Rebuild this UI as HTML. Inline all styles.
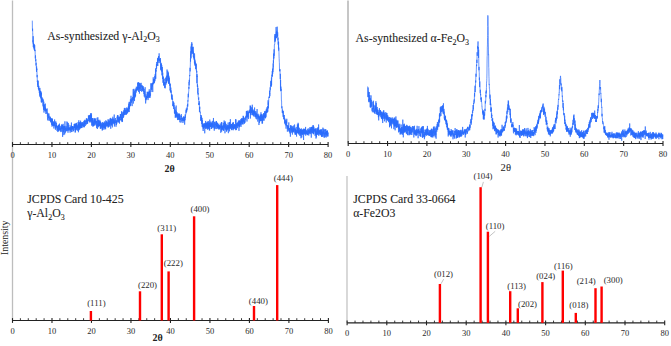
<!DOCTYPE html>
<html><head><meta charset="utf-8"><style>
html,body{margin:0;padding:0;background:#fff;}
svg{display:block;font-family:"Liberation Serif",serif;}
</style></head><body>
<svg width="671" height="346" viewBox="0 0 671 346">
<rect width="671" height="346" fill="#fff"/>
<line x1="12.5" y1="0.5" x2="12.5" y2="320.5" stroke="#bdbdbd" stroke-width="1.3"/>
<line x1="348.0" y1="0.5" x2="348.0" y2="143.5" stroke="#a8a8a8" stroke-width="1.3"/>
<line x1="347.0" y1="176" x2="347.0" y2="322.9" stroke="#c4c4c4" stroke-width="1.3"/>
<path d="M32.30,20.61 L32.40,28.04 L32.50,30.83 L32.60,28.67 L32.70,32.59 L32.80,35.14 L32.90,41.73 L33.00,40.42 L33.10,43.44 L33.20,36.19 L33.30,47.08 L33.40,42.65 L33.50,45.58 L33.60,43.71 L33.70,43.57 L33.80,46.68 L33.90,48.35 L34.00,45.87 L34.10,46.61 L34.20,49.69 L34.30,45.65 L34.40,44.33 L34.50,50.59 L34.60,48.02 L34.70,45.16 L34.80,49.27 L34.90,51.13 L35.00,49.84 L35.10,49.80 L35.20,55.12 L35.30,58.46 L35.40,56.00 L35.50,55.35 L35.60,59.46 L35.70,61.25 L35.80,59.15 L35.90,62.83 L36.00,65.51 L36.10,63.17 L36.20,62.70 L36.30,67.26 L36.40,68.22 L36.50,71.87 L36.60,66.40 L36.70,69.31 L36.80,69.98 L36.90,68.64 L37.00,74.99 L37.10,77.25 L37.20,74.90 L37.30,81.92 L37.40,81.51 L37.50,82.13 L37.60,82.66 L37.70,85.32 L37.80,80.25 L37.90,86.67 L38.00,86.99 L38.10,80.94 L38.20,87.01 L38.30,85.75 L38.40,88.89 L38.50,85.95 L38.60,87.44 L38.70,88.77 L38.80,85.85 L38.90,90.16 L39.00,88.63 L39.10,90.59 L39.20,88.22 L39.30,92.88 L39.40,91.95 L39.50,90.21 L39.60,92.73 L39.70,94.75 L39.80,96.52 L39.90,87.92 L40.00,94.81 L40.10,94.05 L40.20,92.92 L40.30,90.86 L40.40,97.21 L40.50,90.90 L40.60,96.09 L40.70,98.38 L40.80,91.08 L40.90,94.86 L41.00,92.57 L41.10,96.98 L41.20,100.65 L41.30,102.32 L41.40,92.68 L41.50,96.17 L41.60,99.85 L41.70,102.47 L41.80,99.78 L41.90,97.06 L42.00,100.12 L42.10,99.63 L42.20,99.48 L42.30,98.44 L42.40,101.68 L42.50,101.81 L42.60,101.10 L42.70,101.10 L42.80,98.69 L42.90,101.09 L43.00,105.79 L43.10,102.52 L43.20,99.63 L43.30,107.12 L43.40,105.38 L43.50,109.76 L43.60,104.84 L43.70,103.83 L43.80,101.64 L43.90,109.07 L44.00,112.58 L44.10,104.14 L44.20,104.82 L44.30,108.23 L44.40,104.82 L44.50,106.49 L44.60,106.52 L44.70,108.13 L44.80,110.66 L44.90,108.17 L45.00,110.68 L45.10,107.51 L45.20,109.64 L45.30,103.62 L45.40,105.60 L45.50,111.53 L45.60,108.25 L45.70,111.44 L45.80,111.58 L45.90,113.78 L46.00,112.73 L46.10,113.48 L46.20,110.86 L46.30,109.62 L46.40,109.77 L46.50,110.62 L46.60,109.24 L46.70,110.94 L46.80,112.31 L46.90,113.41 L47.00,112.16 L47.11,108.41 L47.21,113.27 L47.31,114.24 L47.41,116.60 L47.51,115.56 L47.61,112.72 L47.71,112.74 L47.81,119.79 L47.91,116.88 L48.01,119.78 L48.11,120.74 L48.21,113.62 L48.31,116.83 L48.41,117.23 L48.51,117.70 L48.61,117.88 L48.71,117.25 L48.81,117.40 L48.91,113.47 L49.01,117.00 L49.11,115.78 L49.21,118.16 L49.31,116.92 L49.41,119.82 L49.51,120.53 L49.61,119.42 L49.71,119.59 L49.81,119.19 L49.91,118.01 L50.01,118.85 L50.11,118.19 L50.21,120.51 L50.31,119.74 L50.41,121.29 L50.51,116.74 L50.61,122.34 L50.71,118.44 L50.81,118.66 L50.91,120.13 L51.01,119.38 L51.11,121.62 L51.21,119.65 L51.31,118.59 L51.41,119.29 L51.51,124.72 L51.61,121.77 L51.71,118.96 L51.81,121.98 L51.91,118.31 L52.01,126.63 L52.11,118.69 L52.21,123.73 L52.31,124.04 L52.41,119.33 L52.51,123.74 L52.61,125.54 L52.71,124.35 L52.81,123.94 L52.91,125.72 L53.01,123.90 L53.11,124.43 L53.21,123.40 L53.31,125.34 L53.41,121.62 L53.51,125.93 L53.61,122.88 L53.71,121.56 L53.81,125.19 L53.91,128.51 L54.01,126.84 L54.11,123.36 L54.21,126.40 L54.31,123.71 L54.41,124.61 L54.51,125.22 L54.61,119.50 L54.71,125.67 L54.81,122.82 L54.91,123.72 L55.01,121.94 L55.11,121.90 L55.21,123.34 L55.31,127.68 L55.41,129.77 L55.51,125.74 L55.61,128.50 L55.71,125.29 L55.81,121.37 L55.91,126.41 L56.01,127.18 L56.11,125.13 L56.21,126.95 L56.31,127.67 L56.41,124.26 L56.51,122.84 L56.61,125.93 L56.71,126.02 L56.81,125.73 L56.91,129.02 L57.01,130.86 L57.11,125.76 L57.21,128.51 L57.31,129.15 L57.41,128.66 L57.51,129.53 L57.61,126.13 L57.71,128.91 L57.81,132.06 L57.91,129.18 L58.01,125.81 L58.11,128.83 L58.21,130.46 L58.31,128.37 L58.41,126.19 L58.51,131.31 L58.61,124.66 L58.71,128.93 L58.81,127.75 L58.91,124.98 L59.01,130.83 L59.11,128.80 L59.21,125.23 L59.31,129.53 L59.41,127.11 L59.51,123.64 L59.61,126.61 L59.71,128.96 L59.81,129.91 L59.91,128.84 L60.01,128.61 L60.11,129.62 L60.21,127.97 L60.31,131.29 L60.41,128.82 L60.51,129.15 L60.61,129.74 L60.71,125.89 L60.81,126.72 L60.91,132.08 L61.01,129.20 L61.11,127.71 L61.21,129.20 L61.31,127.21 L61.41,129.03 L61.51,126.75 L61.61,129.00 L61.71,124.54 L61.81,131.51 L61.91,127.08 L62.01,124.50 L62.11,127.75 L62.21,127.39 L62.31,128.63 L62.41,125.51 L62.51,129.20 L62.61,136.88 L62.71,125.16 L62.81,129.03 L62.91,127.46 L63.01,128.66 L63.11,123.84 L63.21,125.42 L63.31,129.27 L63.41,128.07 L63.51,132.07 L63.61,126.45 L63.71,128.55 L63.81,135.11 L63.91,126.27 L64.01,125.93 L64.11,128.00 L64.21,127.97 L64.31,130.09 L64.41,128.37 L64.51,126.23 L64.61,128.55 L64.71,134.36 L64.81,131.07 L64.91,121.33 L65.01,127.66 L65.11,125.91 L65.21,129.51 L65.31,127.62 L65.41,132.68 L65.51,130.29 L65.61,130.20 L65.71,128.52 L65.81,127.98 L65.91,128.91 L66.01,131.21 L66.11,129.39 L66.21,127.28 L66.31,131.19 L66.41,128.60 L66.51,127.96 L66.61,126.26 L66.71,126.81 L66.81,126.65 L66.91,121.49 L67.01,130.64 L67.11,129.57 L67.21,127.71 L67.31,130.74 L67.41,129.29 L67.51,129.14 L67.61,122.32 L67.71,127.71 L67.81,129.56 L67.91,132.15 L68.01,132.72 L68.11,131.73 L68.21,125.53 L68.31,123.06 L68.41,129.71 L68.51,128.42 L68.61,130.67 L68.71,128.07 L68.81,128.91 L68.91,124.79 L69.01,129.48 L69.11,127.34 L69.21,129.26 L69.31,129.53 L69.41,128.16 L69.51,129.21 L69.61,128.43 L69.71,130.29 L69.81,129.69 L69.91,127.18 L70.01,127.09 L70.11,132.66 L70.21,128.21 L70.31,130.82 L70.41,129.36 L70.51,127.04 L70.61,126.58 L70.71,128.65 L70.81,128.95 L70.91,129.79 L71.01,125.26 L71.11,126.85 L71.21,128.03 L71.31,132.08 L71.41,122.55 L71.51,129.25 L71.61,126.88 L71.71,129.19 L71.81,126.96 L71.91,128.99 L72.01,131.85 L72.11,128.93 L72.21,129.10 L72.31,128.93 L72.41,126.22 L72.51,129.30 L72.61,127.48 L72.71,126.01 L72.81,127.84 L72.91,127.37 L73.01,129.71 L73.11,127.77 L73.21,126.59 L73.31,131.33 L73.41,130.19 L73.51,130.85 L73.61,129.24 L73.71,127.49 L73.81,126.73 L73.91,127.05 L74.01,129.97 L74.11,127.95 L74.21,124.09 L74.31,127.54 L74.41,124.21 L74.51,128.00 L74.61,124.68 L74.71,124.52 L74.81,127.82 L74.91,127.33 L75.01,123.50 L75.11,129.26 L75.21,132.64 L75.31,123.84 L75.41,131.75 L75.51,125.69 L75.61,126.13 L75.71,126.86 L75.81,123.78 L75.91,130.35 L76.01,128.38 L76.11,125.36 L76.21,126.47 L76.31,123.46 L76.41,126.24 L76.51,129.30 L76.61,122.89 L76.72,125.94 L76.82,127.31 L76.92,129.45 L77.02,130.14 L77.12,125.76 L77.22,125.05 L77.32,127.89 L77.42,125.90 L77.52,126.00 L77.62,129.32 L77.72,130.76 L77.82,127.30 L77.92,126.16 L78.02,127.97 L78.12,122.02 L78.22,126.49 L78.32,123.95 L78.42,132.24 L78.52,128.18 L78.62,126.76 L78.72,125.92 L78.82,120.29 L78.92,128.04 L79.02,130.23 L79.12,124.51 L79.22,127.88 L79.32,127.95 L79.42,122.44 L79.52,128.40 L79.62,129.39 L79.72,126.64 L79.82,125.90 L79.92,127.93 L80.02,122.27 L80.12,126.17 L80.22,128.44 L80.32,122.84 L80.42,128.19 L80.52,124.73 L80.62,120.66 L80.72,125.39 L80.82,123.24 L80.92,126.31 L81.02,122.66 L81.12,127.98 L81.22,123.60 L81.32,126.20 L81.42,123.85 L81.52,124.46 L81.62,128.08 L81.72,125.66 L81.82,124.14 L81.92,122.01 L82.02,127.80 L82.12,126.72 L82.22,124.10 L82.32,125.43 L82.42,122.30 L82.52,122.28 L82.62,122.69 L82.72,125.50 L82.82,125.31 L82.92,122.73 L83.02,126.28 L83.12,126.34 L83.22,124.81 L83.32,126.86 L83.42,123.59 L83.52,123.97 L83.62,125.34 L83.72,124.06 L83.82,126.02 L83.92,121.00 L84.02,127.45 L84.12,122.04 L84.22,123.49 L84.32,120.49 L84.42,125.25 L84.52,126.84 L84.62,126.29 L84.72,125.67 L84.82,119.80 L84.92,121.64 L85.02,122.35 L85.12,121.08 L85.22,125.97 L85.32,123.57 L85.42,122.94 L85.52,124.07 L85.62,120.44 L85.72,120.42 L85.82,120.37 L85.92,123.61 L86.02,123.11 L86.12,123.57 L86.22,124.67 L86.32,118.60 L86.42,120.43 L86.52,122.04 L86.62,118.26 L86.72,120.14 L86.82,123.80 L86.92,123.90 L87.02,123.72 L87.12,121.06 L87.22,120.32 L87.32,123.37 L87.42,119.68 L87.52,121.31 L87.62,123.61 L87.72,119.33 L87.82,118.62 L87.92,119.97 L88.02,121.35 L88.12,120.94 L88.22,120.02 L88.32,120.89 L88.42,115.46 L88.52,117.16 L88.62,119.56 L88.72,116.75 L88.82,115.61 L88.92,115.82 L89.02,116.41 L89.12,118.12 L89.22,115.91 L89.32,118.90 L89.42,122.39 L89.52,117.71 L89.62,121.11 L89.72,118.55 L89.82,114.95 L89.92,116.96 L90.02,115.10 L90.12,119.58 L90.22,114.98 L90.32,121.25 L90.42,119.56 L90.52,113.28 L90.62,120.37 L90.72,122.41 L90.82,116.78 L90.92,121.31 L91.02,114.60 L91.12,119.80 L91.22,115.24 L91.32,120.67 L91.42,115.23 L91.52,113.31 L91.62,120.90 L91.72,125.70 L91.82,118.77 L91.92,122.42 L92.02,120.80 L92.12,119.89 L92.22,122.34 L92.32,125.01 L92.42,118.11 L92.52,122.66 L92.62,122.28 L92.72,118.10 L92.82,125.68 L92.92,126.65 L93.02,119.67 L93.12,126.23 L93.22,122.10 L93.32,121.55 L93.42,125.61 L93.52,122.48 L93.62,122.70 L93.72,125.60 L93.82,125.03 L93.92,124.04 L94.02,118.42 L94.12,117.99 L94.22,124.57 L94.32,119.54 L94.42,122.15 L94.52,119.15 L94.62,121.31 L94.72,118.62 L94.82,125.71 L94.92,119.22 L95.02,121.41 L95.12,121.31 L95.22,124.77 L95.32,118.41 L95.42,121.85 L95.52,121.48 L95.62,123.34 L95.72,123.26 L95.82,121.03 L95.92,122.80 L96.02,121.36 L96.12,123.47 L96.22,122.13 L96.32,120.84 L96.42,122.43 L96.52,123.44 L96.62,128.13 L96.72,121.47 L96.82,123.47 L96.92,126.34 L97.02,117.77 L97.12,118.64 L97.22,120.05 L97.32,122.72 L97.42,129.00 L97.52,124.07 L97.62,126.11 L97.72,122.68 L97.82,117.28 L97.92,117.71 L98.02,125.87 L98.12,123.90 L98.22,120.35 L98.32,126.28 L98.42,119.87 L98.52,126.43 L98.62,127.26 L98.72,121.93 L98.82,121.15 L98.92,125.95 L99.02,121.29 L99.12,126.10 L99.22,121.16 L99.32,126.08 L99.42,124.40 L99.52,123.18 L99.62,122.12 L99.72,124.92 L99.82,119.81 L99.92,123.79 L100.02,123.54 L100.12,126.16 L100.22,121.48 L100.32,128.69 L100.42,123.79 L100.52,121.79 L100.62,127.92 L100.72,128.60 L100.82,124.13 L100.92,122.43 L101.02,124.64 L101.12,122.94 L101.22,123.87 L101.32,128.41 L101.42,125.59 L101.52,125.00 L101.62,125.50 L101.72,124.53 L101.82,126.72 L101.92,126.82 L102.02,123.81 L102.12,124.97 L102.22,130.57 L102.32,125.75 L102.42,124.29 L102.52,129.72 L102.62,124.79 L102.72,122.11 L102.82,126.42 L102.92,122.61 L103.02,123.60 L103.12,125.60 L103.22,124.52 L103.32,122.98 L103.42,123.51 L103.52,123.41 L103.62,127.69 L103.72,123.13 L103.82,123.50 L103.92,129.83 L104.02,123.56 L104.12,128.52 L104.22,128.11 L104.32,124.56 L104.42,121.50 L104.52,126.05 L104.62,126.59 L104.72,127.32 L104.82,125.16 L104.92,127.91 L105.02,128.36 L105.12,122.40 L105.22,128.37 L105.32,125.29 L105.42,123.46 L105.52,124.02 L105.62,129.30 L105.72,127.10 L105.82,120.33 L105.92,124.83 L106.02,124.25 L106.12,124.12 L106.22,123.27 L106.33,120.94 L106.43,126.52 L106.53,122.11 L106.63,123.45 L106.73,122.85 L106.83,122.50 L106.93,126.03 L107.03,125.12 L107.13,122.51 L107.23,121.82 L107.33,122.93 L107.43,126.38 L107.53,124.30 L107.63,124.52 L107.73,123.11 L107.83,123.24 L107.93,124.36 L108.03,119.31 L108.13,127.67 L108.23,121.80 L108.33,122.29 L108.43,126.88 L108.53,124.13 L108.63,123.65 L108.73,122.09 L108.83,119.67 L108.93,123.88 L109.03,126.30 L109.13,121.16 L109.23,126.63 L109.33,120.53 L109.43,121.44 L109.53,124.42 L109.63,123.15 L109.73,124.79 L109.83,121.26 L109.93,120.52 L110.03,118.44 L110.13,120.02 L110.23,120.29 L110.33,119.39 L110.43,123.58 L110.53,121.17 L110.63,117.90 L110.73,128.76 L110.83,120.63 L110.93,119.57 L111.03,125.61 L111.13,125.39 L111.23,119.70 L111.33,118.87 L111.43,119.99 L111.53,125.15 L111.63,121.59 L111.73,120.34 L111.83,122.20 L111.93,125.17 L112.03,118.80 L112.13,121.21 L112.23,118.73 L112.33,127.38 L112.43,126.47 L112.53,124.31 L112.63,121.62 L112.73,123.52 L112.83,116.73 L112.93,122.50 L113.03,118.52 L113.13,118.51 L113.23,119.99 L113.33,120.81 L113.43,123.03 L113.53,123.30 L113.63,122.19 L113.73,119.20 L113.83,123.12 L113.93,121.13 L114.03,124.28 L114.13,119.10 L114.23,114.54 L114.33,120.10 L114.43,126.50 L114.53,122.34 L114.63,120.67 L114.73,123.27 L114.83,122.30 L114.93,122.16 L115.03,119.72 L115.13,121.11 L115.23,121.36 L115.33,119.23 L115.43,118.00 L115.53,121.02 L115.63,123.00 L115.73,122.15 L115.83,121.72 L115.93,121.68 L116.03,126.73 L116.13,120.96 L116.23,122.82 L116.33,125.01 L116.43,120.27 L116.53,120.73 L116.63,122.59 L116.73,124.11 L116.83,120.67 L116.93,120.74 L117.03,120.01 L117.13,116.76 L117.23,122.41 L117.33,118.98 L117.43,115.31 L117.53,119.13 L117.63,115.17 L117.73,116.89 L117.83,119.35 L117.93,116.98 L118.03,121.83 L118.13,115.52 L118.23,119.73 L118.33,120.39 L118.43,122.56 L118.53,121.18 L118.63,119.42 L118.73,118.98 L118.83,118.58 L118.93,121.47 L119.03,116.98 L119.13,119.83 L119.23,118.25 L119.33,119.02 L119.43,117.72 L119.53,123.58 L119.63,116.62 L119.73,118.81 L119.83,118.81 L119.93,119.57 L120.03,119.11 L120.13,118.95 L120.23,120.23 L120.33,113.98 L120.43,117.62 L120.53,114.45 L120.63,117.98 L120.73,114.37 L120.83,114.82 L120.93,116.95 L121.03,120.46 L121.13,118.33 L121.23,117.54 L121.33,120.18 L121.43,114.26 L121.53,111.31 L121.63,115.35 L121.73,115.61 L121.83,119.27 L121.93,121.42 L122.03,112.70 L122.13,122.07 L122.23,119.70 L122.33,117.79 L122.43,116.52 L122.53,121.55 L122.63,115.60 L122.73,114.12 L122.83,115.55 L122.93,111.69 L123.03,116.18 L123.13,114.63 L123.23,115.63 L123.33,115.60 L123.43,111.96 L123.53,117.79 L123.63,111.87 L123.73,116.52 L123.83,110.22 L123.93,115.03 L124.03,111.95 L124.13,114.01 L124.23,112.18 L124.33,108.24 L124.43,110.82 L124.53,113.68 L124.63,114.97 L124.73,109.63 L124.83,107.88 L124.93,110.92 L125.03,112.47 L125.13,111.27 L125.23,110.70 L125.33,114.73 L125.43,114.89 L125.53,114.19 L125.63,109.84 L125.73,112.26 L125.83,111.44 L125.93,108.20 L126.03,113.89 L126.13,111.75 L126.23,110.17 L126.33,114.84 L126.43,113.06 L126.53,113.16 L126.63,113.89 L126.73,112.54 L126.83,107.40 L126.93,109.48 L127.03,112.86 L127.13,108.25 L127.23,110.16 L127.33,110.93 L127.43,113.44 L127.53,112.95 L127.63,111.80 L127.73,108.92 L127.83,111.58 L127.93,110.47 L128.03,108.56 L128.13,112.22 L128.23,109.83 L128.33,106.45 L128.43,111.39 L128.53,107.32 L128.63,109.28 L128.73,103.68 L128.83,107.32 L128.93,104.75 L129.03,104.48 L129.13,101.89 L129.23,112.04 L129.33,105.98 L129.43,106.77 L129.53,108.80 L129.63,105.45 L129.73,106.88 L129.83,101.88 L129.93,105.66 L130.03,103.89 L130.13,106.01 L130.23,104.96 L130.33,100.71 L130.43,99.28 L130.53,101.21 L130.63,105.50 L130.73,104.47 L130.83,104.19 L130.93,97.71 L131.03,95.75 L131.13,100.86 L131.23,101.38 L131.33,100.46 L131.43,102.71 L131.53,101.12 L131.63,98.27 L131.73,98.83 L131.83,101.26 L131.93,100.85 L132.03,100.24 L132.13,106.11 L132.23,99.30 L132.33,100.07 L132.43,96.94 L132.53,98.37 L132.63,100.45 L132.73,100.33 L132.83,98.22 L132.93,99.44 L133.03,98.32 L133.13,93.03 L133.23,89.15 L133.33,103.55 L133.43,99.45 L133.53,96.90 L133.63,92.26 L133.73,93.25 L133.83,99.94 L133.93,88.82 L134.03,95.07 L134.13,97.97 L134.23,95.83 L134.33,97.21 L134.43,94.64 L134.53,101.07 L134.63,91.80 L134.73,90.69 L134.83,94.78 L134.93,97.60 L135.03,93.44 L135.13,96.13 L135.23,91.71 L135.33,89.74 L135.43,96.37 L135.53,96.59 L135.63,96.26 L135.73,90.79 L135.83,88.64 L135.94,88.37 L136.04,90.65 L136.14,92.57 L136.24,92.14 L136.34,86.72 L136.44,90.84 L136.54,90.13 L136.64,90.09 L136.74,89.55 L136.84,88.84 L136.94,90.74 L137.04,89.29 L137.14,89.42 L137.24,86.83 L137.34,89.61 L137.44,88.09 L137.54,82.60 L137.64,89.45 L137.74,87.31 L137.84,90.38 L137.94,87.32 L138.04,87.36 L138.14,88.06 L138.24,87.32 L138.34,86.02 L138.44,82.25 L138.54,91.92 L138.64,82.56 L138.74,85.76 L138.84,88.31 L138.94,87.44 L139.04,87.82 L139.14,88.23 L139.24,89.43 L139.34,86.69 L139.44,93.61 L139.54,82.88 L139.64,86.10 L139.74,84.37 L139.84,83.74 L139.94,85.86 L140.04,89.00 L140.14,83.26 L140.24,83.39 L140.34,87.41 L140.44,87.05 L140.54,91.01 L140.64,88.63 L140.74,86.60 L140.84,85.23 L140.94,86.83 L141.04,85.91 L141.14,82.83 L141.24,86.67 L141.34,86.31 L141.44,86.29 L141.54,85.89 L141.64,91.74 L141.74,89.19 L141.84,89.97 L141.94,85.95 L142.04,84.97 L142.14,87.09 L142.24,88.64 L142.34,87.19 L142.44,87.74 L142.54,90.96 L142.64,89.32 L142.74,86.01 L142.84,87.64 L142.94,87.15 L143.04,89.60 L143.14,86.29 L143.24,89.23 L143.34,91.86 L143.44,90.39 L143.54,88.17 L143.64,89.27 L143.74,91.54 L143.84,92.80 L143.94,94.04 L144.04,91.73 L144.14,88.91 L144.24,96.50 L144.34,93.80 L144.44,94.39 L144.54,94.42 L144.64,91.17 L144.74,93.37 L144.84,95.19 L144.94,97.54 L145.04,95.27 L145.14,87.19 L145.24,95.08 L145.34,96.94 L145.44,99.72 L145.54,98.48 L145.64,103.45 L145.74,100.95 L145.84,101.05 L145.94,100.28 L146.04,94.34 L146.14,100.08 L146.24,99.33 L146.34,96.28 L146.44,99.10 L146.54,98.56 L146.64,96.14 L146.74,96.94 L146.84,96.47 L146.94,97.67 L147.04,95.85 L147.14,98.29 L147.24,91.73 L147.34,95.92 L147.44,92.14 L147.54,95.19 L147.64,97.72 L147.74,96.32 L147.84,95.87 L147.94,96.24 L148.04,100.09 L148.14,92.95 L148.24,98.10 L148.34,91.68 L148.44,94.33 L148.54,95.89 L148.64,93.12 L148.74,95.80 L148.84,97.08 L148.94,91.91 L149.04,94.70 L149.14,93.66 L149.24,89.27 L149.34,93.66 L149.44,91.79 L149.54,97.20 L149.64,91.08 L149.74,97.66 L149.84,91.49 L149.94,97.80 L150.04,93.83 L150.14,93.36 L150.24,94.04 L150.34,94.05 L150.44,95.14 L150.54,95.77 L150.64,89.98 L150.74,87.31 L150.84,83.26 L150.94,89.11 L151.04,91.93 L151.14,90.66 L151.24,89.71 L151.34,88.21 L151.44,87.18 L151.54,87.89 L151.64,89.44 L151.74,83.41 L151.84,89.86 L151.94,83.72 L152.04,86.96 L152.14,85.39 L152.24,85.82 L152.34,83.71 L152.44,83.13 L152.54,85.34 L152.64,82.74 L152.74,92.05 L152.84,83.98 L152.94,83.04 L153.04,83.04 L153.14,81.34 L153.24,77.29 L153.34,82.99 L153.44,84.24 L153.54,79.02 L153.64,82.85 L153.74,79.25 L153.84,82.17 L153.94,82.96 L154.04,83.02 L154.14,82.60 L154.24,79.20 L154.34,83.26 L154.44,79.33 L154.54,81.24 L154.64,81.93 L154.74,78.87 L154.84,75.89 L154.94,80.83 L155.04,75.57 L155.14,75.38 L155.24,73.99 L155.34,78.58 L155.44,74.99 L155.54,68.38 L155.64,75.89 L155.74,78.83 L155.84,77.28 L155.94,69.85 L156.04,70.86 L156.14,71.27 L156.24,71.56 L156.34,68.34 L156.44,64.33 L156.54,68.91 L156.64,68.01 L156.74,61.97 L156.84,64.21 L156.94,65.53 L157.04,64.25 L157.14,65.26 L157.24,65.54 L157.34,64.31 L157.44,61.93 L157.54,57.87 L157.64,63.03 L157.74,64.80 L157.84,65.96 L157.94,59.66 L158.04,59.15 L158.14,62.94 L158.24,62.43 L158.34,59.03 L158.44,60.28 L158.54,56.18 L158.64,60.26 L158.74,56.35 L158.84,58.50 L158.94,58.74 L159.04,57.91 L159.14,53.34 L159.24,57.23 L159.34,60.76 L159.44,59.80 L159.54,59.02 L159.64,61.57 L159.74,62.49 L159.84,63.13 L159.94,58.53 L160.04,61.19 L160.14,60.57 L160.24,59.40 L160.34,58.03 L160.44,62.44 L160.54,60.62 L160.64,69.69 L160.74,63.64 L160.84,63.68 L160.94,63.59 L161.04,70.48 L161.14,62.84 L161.24,65.47 L161.34,64.14 L161.44,66.37 L161.54,67.23 L161.64,71.31 L161.74,65.07 L161.84,69.87 L161.94,75.34 L162.04,70.24 L162.14,72.04 L162.24,70.92 L162.34,66.97 L162.44,74.84 L162.54,79.26 L162.64,75.57 L162.74,72.64 L162.84,79.34 L162.94,79.69 L163.04,82.85 L163.14,82.95 L163.24,80.07 L163.34,82.25 L163.44,76.59 L163.54,84.90 L163.64,82.72 L163.74,85.52 L163.84,85.80 L163.94,82.48 L164.04,83.20 L164.14,81.58 L164.24,78.70 L164.34,84.30 L164.44,85.43 L164.54,82.42 L164.64,87.64 L164.74,86.33 L164.84,87.64 L164.94,84.69 L165.04,81.99 L165.14,88.38 L165.24,87.46 L165.34,85.05 L165.44,83.74 L165.55,83.66 L165.65,83.57 L165.75,82.09 L165.85,77.53 L165.95,84.68 L166.05,77.99 L166.15,80.70 L166.25,80.30 L166.35,81.39 L166.45,75.78 L166.55,83.12 L166.65,81.27 L166.75,81.26 L166.85,82.30 L166.95,76.28 L167.05,69.50 L167.15,78.73 L167.25,81.11 L167.35,80.37 L167.45,75.34 L167.55,76.24 L167.65,76.95 L167.75,70.81 L167.85,73.64 L167.95,73.39 L168.05,79.60 L168.15,73.86 L168.25,80.49 L168.35,76.64 L168.45,72.43 L168.55,83.67 L168.65,75.33 L168.75,80.18 L168.85,83.64 L168.95,77.94 L169.05,76.50 L169.15,83.20 L169.25,81.00 L169.35,77.92 L169.45,78.79 L169.55,81.28 L169.65,85.70 L169.75,83.03 L169.85,86.32 L169.95,89.75 L170.05,89.44 L170.15,90.62 L170.25,90.79 L170.35,83.89 L170.45,92.22 L170.55,90.56 L170.65,90.08 L170.75,88.25 L170.85,87.65 L170.95,89.66 L171.05,93.13 L171.15,90.48 L171.25,91.83 L171.35,92.76 L171.45,96.55 L171.55,94.41 L171.65,95.20 L171.75,99.48 L171.85,95.54 L171.95,98.36 L172.05,94.56 L172.15,98.89 L172.25,99.04 L172.35,99.89 L172.45,98.92 L172.55,98.16 L172.65,100.76 L172.75,101.02 L172.85,105.60 L172.95,105.97 L173.05,101.09 L173.15,106.16 L173.25,103.70 L173.35,106.48 L173.45,104.45 L173.55,102.29 L173.65,109.03 L173.75,107.96 L173.85,104.05 L173.95,102.74 L174.05,106.57 L174.15,105.30 L174.25,107.76 L174.35,110.63 L174.45,113.15 L174.55,108.90 L174.65,113.66 L174.75,113.50 L174.85,109.83 L174.95,107.10 L175.05,113.72 L175.15,113.26 L175.25,117.80 L175.35,115.62 L175.45,114.14 L175.55,116.57 L175.65,109.85 L175.75,113.12 L175.85,112.10 L175.95,117.30 L176.05,114.50 L176.15,105.57 L176.25,116.82 L176.35,111.27 L176.45,115.64 L176.55,112.65 L176.65,114.61 L176.75,115.74 L176.85,114.79 L176.95,112.07 L177.05,118.10 L177.15,115.75 L177.25,114.87 L177.35,116.82 L177.45,113.88 L177.55,120.06 L177.65,116.07 L177.75,116.57 L177.85,116.68 L177.95,113.70 L178.05,113.17 L178.15,116.73 L178.25,117.17 L178.35,119.74 L178.45,117.62 L178.55,113.89 L178.65,118.00 L178.75,118.85 L178.85,119.39 L178.95,117.82 L179.05,114.07 L179.15,120.08 L179.25,115.48 L179.35,118.82 L179.45,113.60 L179.55,119.49 L179.65,115.75 L179.75,120.47 L179.85,122.26 L179.95,120.89 L180.05,115.18 L180.15,115.79 L180.25,116.02 L180.35,119.86 L180.45,119.12 L180.55,118.71 L180.65,119.13 L180.75,119.85 L180.85,120.07 L180.95,122.69 L181.05,118.43 L181.15,119.12 L181.25,114.08 L181.35,115.44 L181.45,117.05 L181.55,115.88 L181.65,119.40 L181.75,121.47 L181.85,117.88 L181.95,117.80 L182.05,117.74 L182.15,119.29 L182.25,117.59 L182.35,119.95 L182.45,119.61 L182.55,119.68 L182.65,120.68 L182.75,118.84 L182.85,119.08 L182.95,123.03 L183.05,118.54 L183.15,120.59 L183.25,118.72 L183.35,117.42 L183.45,117.39 L183.55,116.46 L183.65,118.48 L183.75,116.92 L183.85,117.34 L183.95,121.36 L184.05,117.98 L184.15,121.10 L184.25,118.90 L184.35,120.34 L184.45,116.67 L184.55,118.51 L184.65,124.62 L184.75,120.12 L184.85,120.52 L184.95,118.58 L185.05,119.91 L185.15,114.51 L185.25,114.87 L185.35,117.65 L185.45,118.22 L185.55,114.76 L185.65,114.91 L185.75,114.07 L185.85,114.11 L185.95,111.17 L186.05,110.19 L186.15,113.16 L186.25,108.61 L186.35,110.11 L186.45,110.50 L186.55,109.11 L186.65,111.96 L186.75,109.83 L186.85,110.35 L186.95,107.59 L187.05,107.55 L187.15,109.73 L187.25,108.35 L187.35,105.23 L187.45,106.35 L187.55,104.90 L187.65,103.82 L187.75,106.53 L187.85,100.37 L187.95,101.49 L188.05,100.37 L188.15,97.40 L188.25,93.71 L188.35,97.33 L188.45,94.95 L188.55,93.14 L188.65,91.81 L188.75,90.55 L188.85,86.85 L188.95,88.77 L189.05,81.87 L189.15,85.41 L189.25,79.83 L189.35,81.05 L189.45,82.10 L189.55,77.54 L189.65,75.05 L189.75,75.93 L189.85,71.86 L189.95,69.59 L190.05,67.79 L190.15,71.39 L190.25,67.19 L190.35,64.87 L190.45,58.26 L190.55,61.67 L190.65,54.33 L190.75,57.67 L190.85,51.20 L190.95,58.41 L191.05,46.53 L191.15,54.48 L191.25,52.61 L191.35,44.35 L191.45,48.27 L191.55,52.65 L191.65,51.12 L191.75,42.16 L191.85,45.40 L191.95,43.70 L192.05,44.40 L192.15,45.79 L192.25,53.43 L192.35,48.60 L192.45,47.78 L192.55,47.70 L192.65,50.92 L192.75,51.25 L192.85,46.72 L192.95,54.04 L193.05,46.93 L193.15,49.92 L193.25,52.67 L193.35,56.98 L193.45,51.52 L193.55,53.98 L193.65,57.56 L193.75,56.16 L193.85,58.23 L193.95,58.57 L194.05,56.90 L194.15,58.58 L194.25,60.00 L194.35,57.86 L194.45,63.17 L194.55,53.39 L194.65,57.08 L194.75,64.51 L194.85,62.17 L194.95,59.69 L195.06,63.19 L195.16,65.76 L195.26,61.57 L195.36,65.91 L195.46,63.89 L195.56,64.45 L195.66,65.11 L195.76,69.01 L195.86,63.20 L195.96,65.87 L196.06,69.33 L196.16,64.53 L196.26,64.05 L196.36,70.66 L196.46,69.59 L196.56,70.24 L196.66,72.55 L196.76,70.94 L196.86,83.25 L196.96,73.94 L197.06,76.96 L197.16,75.76 L197.26,80.03 L197.36,86.82 L197.46,84.22 L197.56,87.22 L197.66,85.71 L197.76,93.28 L197.86,90.25 L197.96,87.89 L198.06,94.66 L198.16,93.04 L198.26,97.02 L198.36,97.18 L198.46,98.91 L198.56,99.75 L198.66,98.05 L198.76,97.51 L198.86,104.92 L198.96,103.05 L199.06,105.13 L199.16,104.21 L199.26,101.23 L199.36,104.15 L199.46,111.95 L199.56,107.19 L199.66,108.81 L199.76,106.67 L199.86,109.65 L199.96,110.64 L200.06,111.62 L200.16,112.59 L200.26,111.79 L200.36,112.54 L200.46,114.54 L200.56,115.98 L200.66,115.42 L200.76,120.70 L200.86,117.48 L200.96,117.97 L201.06,116.44 L201.16,120.99 L201.26,116.34 L201.36,115.28 L201.46,117.26 L201.56,121.58 L201.66,117.65 L201.76,124.03 L201.86,121.20 L201.96,117.95 L202.06,121.50 L202.16,126.81 L202.26,120.76 L202.36,120.07 L202.46,124.90 L202.56,127.23 L202.66,126.92 L202.76,124.06 L202.86,125.71 L202.96,126.44 L203.06,128.66 L203.16,131.01 L203.26,125.57 L203.36,128.96 L203.46,125.00 L203.56,127.25 L203.66,123.57 L203.76,123.98 L203.86,126.83 L203.96,123.66 L204.06,127.97 L204.16,124.50 L204.26,126.01 L204.36,125.63 L204.46,125.02 L204.56,126.14 L204.66,128.43 L204.76,133.32 L204.86,122.96 L204.96,126.55 L205.06,125.40 L205.16,123.62 L205.26,126.52 L205.36,123.71 L205.46,125.64 L205.56,128.82 L205.66,120.95 L205.76,126.43 L205.86,126.91 L205.96,123.52 L206.06,127.09 L206.16,126.68 L206.26,124.98 L206.36,128.75 L206.46,122.67 L206.56,127.38 L206.66,125.26 L206.76,123.28 L206.86,125.40 L206.96,124.98 L207.06,127.80 L207.16,122.22 L207.26,125.36 L207.36,124.73 L207.46,129.62 L207.56,123.13 L207.66,128.38 L207.76,121.58 L207.86,126.65 L207.96,125.49 L208.06,126.72 L208.16,124.08 L208.26,121.04 L208.36,122.00 L208.46,128.87 L208.56,126.19 L208.66,123.56 L208.76,127.80 L208.86,123.80 L208.96,123.79 L209.06,122.61 L209.16,128.36 L209.26,130.24 L209.36,123.14 L209.46,126.14 L209.56,127.78 L209.66,130.50 L209.76,119.57 L209.86,125.68 L209.96,126.87 L210.06,121.71 L210.16,126.25 L210.26,125.71 L210.36,126.96 L210.46,123.78 L210.56,126.17 L210.66,123.67 L210.76,126.58 L210.86,125.47 L210.96,124.15 L211.06,121.61 L211.16,129.00 L211.26,127.67 L211.36,127.09 L211.46,123.33 L211.56,124.07 L211.66,128.93 L211.76,126.67 L211.86,122.78 L211.96,124.93 L212.06,125.14 L212.16,124.29 L212.26,122.47 L212.36,127.77 L212.46,126.13 L212.56,124.21 L212.66,120.85 L212.76,123.22 L212.86,124.61 L212.96,126.70 L213.06,123.71 L213.16,127.32 L213.26,125.01 L213.36,122.90 L213.46,117.97 L213.56,121.92 L213.66,121.19 L213.76,124.46 L213.86,125.67 L213.96,128.26 L214.06,124.90 L214.16,122.15 L214.26,130.68 L214.36,125.78 L214.46,124.42 L214.56,124.45 L214.66,121.85 L214.76,126.69 L214.86,126.08 L214.96,129.05 L215.06,127.91 L215.16,127.38 L215.26,128.35 L215.36,124.65 L215.46,124.30 L215.56,125.28 L215.66,122.42 L215.76,125.12 L215.86,124.71 L215.96,127.15 L216.06,125.53 L216.16,120.99 L216.26,125.70 L216.36,129.08 L216.46,121.26 L216.56,123.89 L216.66,125.80 L216.76,122.59 L216.86,124.50 L216.96,125.99 L217.06,122.69 L217.16,126.60 L217.26,126.89 L217.36,122.86 L217.46,126.00 L217.56,128.56 L217.66,125.54 L217.76,127.03 L217.86,127.55 L217.96,125.44 L218.06,128.40 L218.16,126.97 L218.26,123.66 L218.36,127.33 L218.46,128.17 L218.56,128.04 L218.66,124.56 L218.76,127.24 L218.86,129.46 L218.96,126.72 L219.06,129.03 L219.16,129.33 L219.26,126.12 L219.36,127.81 L219.46,125.53 L219.56,128.83 L219.66,126.04 L219.76,124.95 L219.86,126.23 L219.96,126.13 L220.06,127.24 L220.16,127.46 L220.26,123.54 L220.36,124.79 L220.46,127.24 L220.56,127.55 L220.66,126.61 L220.76,132.77 L220.86,129.13 L220.96,126.27 L221.06,128.22 L221.16,129.71 L221.26,127.38 L221.36,122.31 L221.46,126.77 L221.56,126.67 L221.66,131.70 L221.76,122.15 L221.86,130.32 L221.96,126.24 L222.06,128.87 L222.16,125.94 L222.26,127.08 L222.36,129.40 L222.46,126.89 L222.56,129.24 L222.66,126.52 L222.76,125.75 L222.86,126.22 L222.96,125.55 L223.06,126.49 L223.16,130.07 L223.26,123.99 L223.36,122.82 L223.46,126.79 L223.56,130.91 L223.66,129.38 L223.76,130.06 L223.86,129.90 L223.96,125.15 L224.06,127.21 L224.16,120.53 L224.26,125.48 L224.36,128.43 L224.46,123.23 L224.56,122.03 L224.67,123.88 L224.77,127.55 L224.87,129.85 L224.97,133.28 L225.07,130.50 L225.17,123.39 L225.27,121.43 L225.37,127.37 L225.47,129.54 L225.57,123.08 L225.67,125.70 L225.77,125.86 L225.87,127.01 L225.97,126.48 L226.07,128.14 L226.17,129.43 L226.27,127.04 L226.37,128.66 L226.47,131.64 L226.57,124.36 L226.67,124.28 L226.77,128.02 L226.87,131.24 L226.97,127.16 L227.07,129.38 L227.17,125.99 L227.27,128.92 L227.37,125.19 L227.47,128.31 L227.57,127.62 L227.67,127.60 L227.77,129.95 L227.87,129.19 L227.97,125.16 L228.07,128.73 L228.17,122.48 L228.27,128.95 L228.37,133.18 L228.47,127.81 L228.57,127.75 L228.67,126.66 L228.77,128.50 L228.87,125.39 L228.97,128.09 L229.07,125.80 L229.17,125.41 L229.27,126.72 L229.37,126.26 L229.47,122.20 L229.57,131.39 L229.67,126.70 L229.77,122.25 L229.87,128.93 L229.97,126.24 L230.07,126.79 L230.17,128.01 L230.27,124.14 L230.37,119.19 L230.47,126.06 L230.57,126.89 L230.67,128.72 L230.77,124.48 L230.87,125.66 L230.97,127.27 L231.07,125.54 L231.17,125.70 L231.27,126.92 L231.37,123.90 L231.47,130.13 L231.57,124.08 L231.67,126.39 L231.77,125.51 L231.87,124.59 L231.97,127.59 L232.07,128.74 L232.17,129.81 L232.27,127.70 L232.37,125.21 L232.47,128.38 L232.57,122.81 L232.67,126.41 L232.77,127.55 L232.87,127.65 L232.97,123.50 L233.07,122.67 L233.17,130.29 L233.27,125.04 L233.37,122.29 L233.47,123.27 L233.57,126.29 L233.67,129.11 L233.77,126.25 L233.87,129.15 L233.97,126.79 L234.07,127.38 L234.17,128.61 L234.27,125.33 L234.37,126.95 L234.47,125.29 L234.57,124.69 L234.67,127.80 L234.77,124.23 L234.87,126.41 L234.97,124.30 L235.07,125.99 L235.17,124.93 L235.27,128.84 L235.37,126.39 L235.47,126.38 L235.57,130.16 L235.67,119.19 L235.77,123.47 L235.87,119.54 L235.97,126.13 L236.07,127.16 L236.17,127.59 L236.27,126.61 L236.37,123.79 L236.47,130.06 L236.57,126.50 L236.67,125.06 L236.77,122.92 L236.87,126.58 L236.97,124.30 L237.07,124.34 L237.17,125.86 L237.27,125.82 L237.37,123.24 L237.47,128.20 L237.57,122.67 L237.67,122.33 L237.77,125.71 L237.87,125.21 L237.97,125.00 L238.07,123.77 L238.17,124.81 L238.27,123.28 L238.37,120.58 L238.47,126.30 L238.57,121.99 L238.67,123.83 L238.77,126.09 L238.87,124.32 L238.97,130.85 L239.07,120.73 L239.17,122.25 L239.27,124.22 L239.37,127.23 L239.47,123.27 L239.57,120.33 L239.67,126.52 L239.77,121.44 L239.87,123.14 L239.97,125.70 L240.07,121.84 L240.17,122.28 L240.27,124.47 L240.37,122.70 L240.47,123.80 L240.57,120.71 L240.67,122.63 L240.77,120.17 L240.87,118.94 L240.97,126.93 L241.07,123.66 L241.17,124.70 L241.27,120.01 L241.37,122.21 L241.47,121.69 L241.57,118.63 L241.67,123.34 L241.77,120.15 L241.87,121.33 L241.97,118.03 L242.07,124.08 L242.17,123.41 L242.27,122.43 L242.37,119.15 L242.47,119.97 L242.57,124.19 L242.67,120.43 L242.77,121.67 L242.87,121.27 L242.97,118.09 L243.07,124.48 L243.17,115.79 L243.27,121.12 L243.37,120.26 L243.47,116.41 L243.57,121.11 L243.67,121.48 L243.77,120.24 L243.87,117.99 L243.97,121.04 L244.07,122.59 L244.17,120.30 L244.27,123.91 L244.37,121.69 L244.47,121.38 L244.57,122.82 L244.67,117.68 L244.77,117.93 L244.87,120.40 L244.97,120.32 L245.07,122.60 L245.17,121.53 L245.27,118.96 L245.37,118.89 L245.47,117.49 L245.57,117.09 L245.67,116.70 L245.77,119.87 L245.87,116.29 L245.97,116.40 L246.07,117.50 L246.17,115.66 L246.27,116.18 L246.37,111.16 L246.47,117.33 L246.57,115.47 L246.67,116.53 L246.77,116.79 L246.87,111.09 L246.97,121.52 L247.07,115.77 L247.17,115.66 L247.27,110.61 L247.37,116.46 L247.47,115.78 L247.57,113.69 L247.67,115.05 L247.77,117.48 L247.87,113.28 L247.97,111.69 L248.07,117.13 L248.17,114.29 L248.27,113.01 L248.37,119.06 L248.47,113.51 L248.57,112.50 L248.67,113.43 L248.77,111.57 L248.87,112.94 L248.97,112.59 L249.07,110.38 L249.17,111.20 L249.27,112.45 L249.37,112.45 L249.47,112.77 L249.57,113.09 L249.67,111.56 L249.77,112.05 L249.87,109.60 L249.97,109.73 L250.07,113.00 L250.17,105.44 L250.27,111.43 L250.37,118.54 L250.47,105.93 L250.57,114.46 L250.67,106.29 L250.77,111.69 L250.87,114.93 L250.97,114.63 L251.07,108.64 L251.17,107.71 L251.27,107.41 L251.37,112.91 L251.47,110.17 L251.57,111.23 L251.67,111.92 L251.77,112.36 L251.87,112.74 L251.97,111.76 L252.07,107.47 L252.17,115.24 L252.27,104.72 L252.37,114.81 L252.47,110.25 L252.57,111.33 L252.67,110.58 L252.77,111.03 L252.87,111.97 L252.97,111.38 L253.07,109.42 L253.17,114.41 L253.27,110.92 L253.37,115.85 L253.47,112.19 L253.57,110.90 L253.67,113.87 L253.77,115.10 L253.87,110.65 L253.97,112.36 L254.07,116.75 L254.17,110.77 L254.28,111.24 L254.38,113.89 L254.48,110.53 L254.58,107.50 L254.68,109.59 L254.78,114.80 L254.88,115.61 L254.98,115.55 L255.08,115.14 L255.18,111.19 L255.28,116.06 L255.38,117.35 L255.48,112.83 L255.58,117.02 L255.68,113.85 L255.78,115.34 L255.88,115.89 L255.98,111.37 L256.08,118.83 L256.18,113.14 L256.28,115.12 L256.38,114.24 L256.48,116.72 L256.58,116.75 L256.68,115.83 L256.78,119.39 L256.88,116.68 L256.98,115.08 L257.08,109.02 L257.18,115.58 L257.28,115.66 L257.38,114.31 L257.48,114.44 L257.58,118.15 L257.68,119.37 L257.78,121.58 L257.88,119.81 L257.98,115.32 L258.08,117.76 L258.18,113.77 L258.28,118.98 L258.38,118.08 L258.48,115.71 L258.58,116.98 L258.68,116.65 L258.78,115.72 L258.88,120.59 L258.98,125.04 L259.08,119.41 L259.18,120.02 L259.28,117.82 L259.38,116.58 L259.48,122.91 L259.58,116.59 L259.68,118.51 L259.78,117.25 L259.88,119.04 L259.98,117.48 L260.08,119.09 L260.18,114.52 L260.28,117.43 L260.38,121.09 L260.48,115.17 L260.58,116.10 L260.68,121.17 L260.78,118.80 L260.88,120.47 L260.98,112.31 L261.08,118.23 L261.18,114.74 L261.28,114.48 L261.38,118.96 L261.48,120.90 L261.58,114.29 L261.68,115.28 L261.78,116.60 L261.88,117.75 L261.98,114.80 L262.08,123.62 L262.18,119.40 L262.28,116.96 L262.38,116.48 L262.48,123.44 L262.58,123.14 L262.68,116.28 L262.78,118.27 L262.88,120.45 L262.98,114.28 L263.08,115.68 L263.18,120.41 L263.28,115.23 L263.38,115.80 L263.48,113.43 L263.58,114.80 L263.68,118.31 L263.78,114.46 L263.88,113.16 L263.98,114.76 L264.08,120.66 L264.18,116.59 L264.28,114.66 L264.38,116.35 L264.48,116.99 L264.58,116.09 L264.68,111.18 L264.78,116.36 L264.88,114.98 L264.98,117.54 L265.08,111.95 L265.18,117.88 L265.28,113.92 L265.38,110.79 L265.48,118.32 L265.58,113.60 L265.68,115.74 L265.78,114.30 L265.88,117.37 L265.98,117.31 L266.08,117.02 L266.18,115.64 L266.28,109.39 L266.38,108.84 L266.48,113.21 L266.58,109.92 L266.68,113.14 L266.78,112.00 L266.88,107.61 L266.98,108.19 L267.08,107.56 L267.18,107.81 L267.28,109.17 L267.38,111.06 L267.48,112.37 L267.58,106.09 L267.68,106.75 L267.78,111.81 L267.88,109.74 L267.98,107.67 L268.08,100.30 L268.18,102.95 L268.28,105.17 L268.38,102.42 L268.48,108.33 L268.58,102.59 L268.68,102.29 L268.78,97.87 L268.88,97.21 L268.98,97.40 L269.08,96.70 L269.18,96.93 L269.28,97.74 L269.38,96.58 L269.48,97.82 L269.58,90.74 L269.68,94.11 L269.78,93.39 L269.88,96.21 L269.98,90.56 L270.08,91.23 L270.18,87.34 L270.28,89.89 L270.38,89.03 L270.48,85.44 L270.58,85.15 L270.68,85.46 L270.78,86.33 L270.88,80.79 L270.98,85.58 L271.08,81.43 L271.18,86.79 L271.28,84.79 L271.38,78.82 L271.48,77.40 L271.58,85.19 L271.68,79.30 L271.78,78.33 L271.88,74.76 L271.98,74.78 L272.08,76.79 L272.18,75.67 L272.28,71.02 L272.38,76.28 L272.48,73.06 L272.58,68.91 L272.68,73.85 L272.78,69.94 L272.88,72.08 L272.98,67.69 L273.08,69.72 L273.18,63.46 L273.28,67.55 L273.38,60.24 L273.48,63.24 L273.58,53.52 L273.68,58.86 L273.78,59.32 L273.88,56.77 L273.98,57.43 L274.08,49.33 L274.18,55.83 L274.28,54.59 L274.38,44.82 L274.48,44.66 L274.58,43.97 L274.68,44.26 L274.78,43.53 L274.88,34.07 L274.98,42.05 L275.08,38.61 L275.18,35.54 L275.28,40.86 L275.38,36.15 L275.48,39.99 L275.58,37.40 L275.68,34.04 L275.78,37.94 L275.88,36.08 L275.98,31.27 L276.08,27.09 L276.18,30.43 L276.28,34.24 L276.38,31.76 L276.48,38.17 L276.58,33.67 L276.68,33.65 L276.78,34.48 L276.88,30.66 L276.98,33.21 L277.08,31.72 L277.18,26.67 L277.28,28.97 L277.38,37.36 L277.48,34.31 L277.58,35.90 L277.68,32.33 L277.78,35.67 L277.88,40.49 L277.98,38.98 L278.08,37.69 L278.18,44.56 L278.28,41.36 L278.38,42.36 L278.48,48.75 L278.58,41.95 L278.68,50.69 L278.78,47.60 L278.88,50.46 L278.98,52.65 L279.08,56.91 L279.18,58.70 L279.28,61.13 L279.38,62.71 L279.48,68.01 L279.58,70.67 L279.68,69.71 L279.78,71.39 L279.88,69.68 L279.98,69.14 L280.08,75.40 L280.18,75.34 L280.28,79.14 L280.38,73.84 L280.48,88.58 L280.58,79.99 L280.68,85.86 L280.78,90.74 L280.88,86.61 L280.98,91.15 L281.08,88.87 L281.18,91.96 L281.28,92.13 L281.38,99.03 L281.48,101.03 L281.58,100.93 L281.68,106.54 L281.78,108.35 L281.88,106.24 L281.98,107.19 L282.08,107.71 L282.18,107.76 L282.28,112.75 L282.38,110.52 L282.48,109.57 L282.58,110.34 L282.68,112.81 L282.78,110.91 L282.88,113.22 L282.98,112.83 L283.08,116.84 L283.18,116.85 L283.28,110.86 L283.38,114.52 L283.48,117.21 L283.58,114.80 L283.68,118.45 L283.78,117.77 L283.89,118.91 L283.99,117.77 L284.09,118.96 L284.19,119.75 L284.29,115.03 L284.39,116.65 L284.49,116.63 L284.59,123.57 L284.69,120.38 L284.79,120.79 L284.89,120.54 L284.99,119.07 L285.09,118.74 L285.19,122.92 L285.29,120.14 L285.39,125.19 L285.49,122.02 L285.59,122.00 L285.69,121.47 L285.79,122.07 L285.89,122.57 L285.99,126.46 L286.09,128.69 L286.19,120.38 L286.29,124.07 L286.39,125.41 L286.49,121.71 L286.59,122.61 L286.69,123.28 L286.79,118.77 L286.89,126.45 L286.99,125.00 L287.09,125.12 L287.19,125.78 L287.29,126.43 L287.39,131.67 L287.49,126.74 L287.59,128.56 L287.69,125.52 L287.79,127.87 L287.89,126.49 L287.99,127.13 L288.09,125.45 L288.19,125.79 L288.29,128.98 L288.39,129.81 L288.49,129.24 L288.59,126.64 L288.69,129.15 L288.79,122.41 L288.89,130.91 L288.99,128.67 L289.09,129.54 L289.19,131.82 L289.29,128.13 L289.39,131.58 L289.49,128.34 L289.59,130.84 L289.69,128.67 L289.79,130.51 L289.89,133.40 L289.99,128.46 L290.09,128.58 L290.19,129.26 L290.29,130.78 L290.39,136.67 L290.49,128.66 L290.59,125.14 L290.69,128.49 L290.79,126.25 L290.89,128.72 L290.99,130.11 L291.09,127.76 L291.19,128.43 L291.29,125.57 L291.39,130.50 L291.49,128.27 L291.59,132.68 L291.69,132.60 L291.79,127.98 L291.89,129.18 L291.99,130.21 L292.09,131.90 L292.19,126.05 L292.29,129.91 L292.39,134.57 L292.49,129.87 L292.59,130.62 L292.69,130.09 L292.79,127.22 L292.89,132.38 L292.99,130.74 L293.09,130.49 L293.19,131.84 L293.29,131.99 L293.39,125.54 L293.49,131.26 L293.59,128.70 L293.69,130.49 L293.79,128.39 L293.89,128.02 L293.99,132.40 L294.09,130.10 L294.19,129.46 L294.29,129.47 L294.39,130.38 L294.49,130.16 L294.59,124.53 L294.69,128.14 L294.79,129.69 L294.89,132.07 L294.99,133.57 L295.09,128.07 L295.19,135.00 L295.29,130.59 L295.39,131.56 L295.49,129.12 L295.59,128.97 L295.69,133.90 L295.79,129.94 L295.89,130.24 L295.99,133.29 L296.09,134.67 L296.19,126.94 L296.29,130.11 L296.39,130.56 L296.49,134.97 L296.59,136.56 L296.69,130.53 L296.79,131.57 L296.89,132.77 L296.99,133.48 L297.09,129.96 L297.19,132.81 L297.29,129.09 L297.39,124.35 L297.49,127.49 L297.59,131.35 L297.69,132.73 L297.79,125.44 L297.89,126.55 L297.99,130.84 L298.09,122.81 L298.19,132.30 L298.29,133.46 L298.39,123.83 L298.49,132.87 L298.59,130.58 L298.69,134.47 L298.79,131.76 L298.89,130.53 L298.99,131.42 L299.09,133.41 L299.19,131.63 L299.29,131.29 L299.39,127.74 L299.49,132.39 L299.59,131.32 L299.69,135.70 L299.79,131.26 L299.89,131.10 L299.99,129.82 L300.09,133.08 L300.19,130.86 L300.29,129.67 L300.39,135.23 L300.49,135.68 L300.59,130.31 L300.69,128.95 L300.79,134.14 L300.89,129.43 L300.99,138.25 L301.09,131.13 L301.19,133.79 L301.29,128.36 L301.39,131.41 L301.49,134.14 L301.59,132.58 L301.69,130.23 L301.79,137.45 L301.89,133.33 L301.99,131.01 L302.09,130.12 L302.19,130.93 L302.29,134.85 L302.39,129.75 L302.49,131.69 L302.59,129.65 L302.69,134.66 L302.79,131.26 L302.89,133.74 L302.99,133.04 L303.09,130.28 L303.19,133.38 L303.29,133.97 L303.39,128.94 L303.49,133.42 L303.59,140.00 L303.69,131.02 L303.79,133.29 L303.89,128.54 L303.99,132.88 L304.09,130.36 L304.19,133.65 L304.29,131.68 L304.39,128.97 L304.49,134.48 L304.59,131.31 L304.69,129.39 L304.79,132.01 L304.89,129.53 L304.99,132.83 L305.09,131.71 L305.19,130.95 L305.29,133.44 L305.39,128.72 L305.49,134.15 L305.59,126.93 L305.69,135.65 L305.79,132.19 L305.89,131.09 L305.99,129.93 L306.09,133.03 L306.19,131.30 L306.29,131.24 L306.39,134.15 L306.49,130.58 L306.59,131.05 L306.69,132.64 L306.79,134.19 L306.89,131.21 L306.99,131.94 L307.09,131.65 L307.19,133.33 L307.29,135.12 L307.39,129.23 L307.49,131.15 L307.59,131.35 L307.69,132.88 L307.79,135.07 L307.89,131.37 L307.99,131.91 L308.09,134.13 L308.19,128.34 L308.29,129.48 L308.39,130.24 L308.49,131.30 L308.59,131.86 L308.69,130.02 L308.79,135.52 L308.89,129.53 L308.99,130.74 L309.09,133.85 L309.19,133.07 L309.29,131.14 L309.39,132.08 L309.49,133.13 L309.59,131.10 L309.69,132.69 L309.79,128.86 L309.89,131.25 L309.99,127.06 L310.09,128.89 L310.19,128.29 L310.29,134.12 L310.39,129.96 L310.49,131.83 L310.59,128.86 L310.69,130.63 L310.79,130.45 L310.89,129.05 L310.99,133.24 L311.09,127.11 L311.19,132.69 L311.29,137.65 L311.39,129.18 L311.49,131.26 L311.59,127.40 L311.69,131.14 L311.79,126.98 L311.89,132.74 L311.99,130.02 L312.09,126.72 L312.19,128.07 L312.29,127.36 L312.39,130.54 L312.49,133.32 L312.59,130.27 L312.69,128.37 L312.79,129.21 L312.89,131.54 L312.99,125.31 L313.09,132.69 L313.19,132.25 L313.29,125.27 L313.39,134.16 L313.50,127.28 L313.60,130.75 L313.70,134.17 L313.80,127.29 L313.90,126.77 L314.00,128.56 L314.10,128.66 L314.20,130.98 L314.30,130.04 L314.40,130.12 L314.50,130.16 L314.60,130.90 L314.70,129.27 L314.80,132.17 L314.90,131.38 L315.00,128.90 L315.10,135.88 L315.20,128.31 L315.30,133.24 L315.40,129.63 L315.50,132.35 L315.60,132.77 L315.70,133.62 L315.80,135.01 L315.90,129.48 L316.00,138.57 L316.10,132.57 L316.20,129.61 L316.30,128.29 L316.40,137.39 L316.50,135.69 L316.60,131.64 L316.70,133.56 L316.80,134.94 L316.90,131.98 L317.00,130.71 L317.10,131.68 L317.20,133.84 L317.30,131.85 L317.40,128.80 L317.50,133.68 L317.60,127.61 L317.70,130.02 L317.80,134.91 L317.90,132.47 L318.00,132.48 L318.10,132.18 L318.20,134.46 L318.30,131.82 L318.40,127.17 L318.50,132.57 L318.60,124.46 L318.70,126.97 L318.80,135.90 L318.90,134.58 L319.00,130.90 L319.10,131.87 L319.20,132.27 L319.30,134.54 L319.40,130.19 L319.50,129.94 L319.60,130.58 L319.70,132.47 L319.80,132.79 L319.90,131.19 L320.00,134.04 L320.10,129.68 L320.20,132.01 L320.30,130.51 L320.40,129.76 L320.50,135.25 L320.60,131.47 L320.70,129.80 L320.80,132.38 L320.90,129.84 L321.00,133.77 L321.10,134.41 L321.20,134.86 L321.30,129.76 L321.40,132.01 L321.50,136.91 L321.60,131.87 L321.70,135.52 L321.80,136.17 L321.90,129.05 L322.00,135.43 L322.10,134.32 L322.20,134.64 L322.30,136.65 L322.40,133.65 L322.50,132.72 L322.60,134.05 L322.70,131.71 L322.80,133.79 L322.90,127.65 L323.00,136.85 L323.10,131.31 L323.20,133.95 L323.30,133.41 L323.40,132.91 L323.50,132.94 L323.60,132.84 L323.70,128.68 L323.80,131.37 L323.90,135.65 L324.00,130.23 L324.10,130.16 L324.20,137.95 L324.30,135.74 L324.40,136.62 L324.50,132.77 L324.60,133.48 L324.70,134.70 L324.80,134.22 L324.90,132.64 L325.00,129.28 L325.10,131.11 L325.20,129.25 L325.30,136.85 L325.40,132.04 L325.50,132.62 L325.60,133.80 L325.70,133.19 L325.80,134.48 L325.90,131.70 L326.00,129.53 L326.10,137.59 L326.20,131.60 L326.30,132.22 L326.40,131.48 L326.50,132.12 L326.60,133.55 L326.70,135.37 L326.80,131.01 L326.90,134.33 L327.00,132.02 L327.10,136.64 L327.20,130.74 L327.30,134.03 L327.40,135.57 L327.50,130.55 L327.60,134.18 L327.70,134.31 L327.80,132.05 L327.90,133.51 L328.00,136.49 L328.10,134.67 L328.20,133.06" fill="none" stroke="#2a6cfc" stroke-width="0.7" stroke-linejoin="round"/>
<path d="M367.60,86.51 L367.70,87.47 L367.80,87.49 L367.90,90.00 L368.00,96.97 L368.10,87.54 L368.20,96.02 L368.30,97.37 L368.40,92.53 L368.50,91.76 L368.60,95.94 L368.70,98.74 L368.80,102.16 L368.90,98.57 L369.00,101.23 L369.10,95.17 L369.20,94.26 L369.30,92.02 L369.40,94.25 L369.50,97.19 L369.60,99.38 L369.70,95.06 L369.80,102.21 L369.90,99.75 L370.00,98.48 L370.10,98.31 L370.20,107.29 L370.30,101.68 L370.40,98.55 L370.50,98.59 L370.60,107.57 L370.70,100.21 L370.80,105.96 L370.90,106.91 L371.00,95.39 L371.10,107.12 L371.20,102.45 L371.30,99.93 L371.40,101.84 L371.50,105.51 L371.60,105.14 L371.70,105.51 L371.80,102.14 L371.90,108.61 L372.00,109.52 L372.10,110.77 L372.20,108.39 L372.30,111.39 L372.40,112.22 L372.50,108.11 L372.60,108.88 L372.70,108.16 L372.80,108.28 L372.90,109.47 L373.00,101.70 L373.10,106.08 L373.20,108.68 L373.30,100.71 L373.40,102.86 L373.50,112.34 L373.60,104.21 L373.70,106.14 L373.80,108.83 L373.90,106.27 L374.00,105.16 L374.10,106.32 L374.20,106.67 L374.30,106.29 L374.40,108.73 L374.50,113.25 L374.60,109.44 L374.70,113.46 L374.80,110.80 L374.90,111.18 L375.00,110.49 L375.10,107.83 L375.20,110.14 L375.30,109.86 L375.40,105.55 L375.50,111.41 L375.60,110.96 L375.70,110.39 L375.80,107.60 L375.90,101.26 L376.00,114.05 L376.10,109.41 L376.20,103.00 L376.30,111.88 L376.40,107.82 L376.50,112.23 L376.60,109.91 L376.70,113.86 L376.80,111.19 L376.90,111.45 L377.00,111.17 L377.10,114.63 L377.20,106.94 L377.30,114.70 L377.40,113.31 L377.50,109.59 L377.60,111.42 L377.70,110.16 L377.80,111.85 L377.90,114.69 L378.00,109.81 L378.10,114.32 L378.20,115.05 L378.30,114.23 L378.40,117.21 L378.50,112.28 L378.60,114.76 L378.70,120.39 L378.80,112.95 L378.90,112.56 L379.00,113.12 L379.10,115.03 L379.20,111.44 L379.30,112.71 L379.40,108.18 L379.50,110.47 L379.60,110.68 L379.70,110.37 L379.80,112.70 L379.90,116.32 L380.00,113.12 L380.10,110.26 L380.20,115.12 L380.30,114.93 L380.40,110.12 L380.50,114.93 L380.60,111.20 L380.70,112.59 L380.80,112.30 L380.90,117.13 L381.00,112.10 L381.10,113.68 L381.20,115.27 L381.30,117.92 L381.40,118.42 L381.50,111.67 L381.60,118.49 L381.70,115.80 L381.80,118.59 L381.90,118.19 L382.00,113.34 L382.10,115.13 L382.20,114.14 L382.30,116.23 L382.41,120.22 L382.51,115.32 L382.61,113.14 L382.71,123.04 L382.81,112.19 L382.91,115.29 L383.01,115.28 L383.11,111.44 L383.21,117.83 L383.31,118.70 L383.41,115.21 L383.51,115.67 L383.61,115.02 L383.71,110.12 L383.81,116.35 L383.91,111.79 L384.01,112.71 L384.11,116.92 L384.21,118.59 L384.31,113.09 L384.41,119.32 L384.51,121.29 L384.61,116.40 L384.71,115.67 L384.81,116.56 L384.91,114.73 L385.01,113.37 L385.11,118.09 L385.21,118.41 L385.31,114.73 L385.41,115.12 L385.51,114.53 L385.61,114.38 L385.71,113.64 L385.81,112.07 L385.91,119.59 L386.01,115.81 L386.11,117.19 L386.21,122.59 L386.31,115.66 L386.41,119.02 L386.51,113.18 L386.61,115.49 L386.71,119.64 L386.81,116.78 L386.91,113.27 L387.01,113.04 L387.11,118.87 L387.21,115.07 L387.31,120.10 L387.41,118.94 L387.51,117.20 L387.61,118.07 L387.71,120.66 L387.81,118.54 L387.91,115.63 L388.01,119.64 L388.11,117.63 L388.21,118.09 L388.31,120.62 L388.41,119.97 L388.51,122.16 L388.61,118.58 L388.71,117.85 L388.81,118.29 L388.91,120.56 L389.01,117.06 L389.11,118.50 L389.21,117.12 L389.31,117.41 L389.41,119.32 L389.51,127.26 L389.61,118.88 L389.71,120.91 L389.81,120.50 L389.91,119.78 L390.01,120.48 L390.11,126.34 L390.21,119.69 L390.31,125.35 L390.41,122.52 L390.51,117.99 L390.61,118.69 L390.71,119.30 L390.81,117.46 L390.91,124.23 L391.01,122.06 L391.11,122.45 L391.21,117.81 L391.31,122.35 L391.41,119.37 L391.51,128.33 L391.61,120.80 L391.71,121.96 L391.81,122.40 L391.91,119.77 L392.01,120.07 L392.11,120.10 L392.21,123.88 L392.31,119.18 L392.41,120.93 L392.51,122.44 L392.61,120.26 L392.71,117.43 L392.81,118.00 L392.91,120.37 L393.01,118.75 L393.11,124.59 L393.21,121.78 L393.31,121.70 L393.41,118.79 L393.51,123.43 L393.61,120.83 L393.71,119.08 L393.81,120.06 L393.91,129.16 L394.01,120.24 L394.11,119.50 L394.21,125.59 L394.31,124.39 L394.41,121.37 L394.51,126.39 L394.61,117.91 L394.71,120.91 L394.81,117.47 L394.91,126.51 L395.01,122.60 L395.11,130.35 L395.21,124.10 L395.31,124.28 L395.41,119.60 L395.51,119.56 L395.61,121.75 L395.71,126.03 L395.81,120.33 L395.91,116.45 L396.01,126.21 L396.11,126.51 L396.21,121.17 L396.31,125.34 L396.41,127.48 L396.51,127.75 L396.61,119.70 L396.71,124.69 L396.81,122.31 L396.91,127.61 L397.01,125.13 L397.11,121.37 L397.21,125.41 L397.31,126.99 L397.41,120.71 L397.51,121.42 L397.61,123.55 L397.71,124.79 L397.81,124.12 L397.91,120.47 L398.01,121.39 L398.11,126.08 L398.21,127.55 L398.31,123.80 L398.41,127.08 L398.51,132.34 L398.61,126.23 L398.71,125.68 L398.81,125.03 L398.91,128.69 L399.01,128.11 L399.11,128.32 L399.21,126.59 L399.31,129.08 L399.41,129.23 L399.51,127.70 L399.61,131.73 L399.71,123.76 L399.81,130.69 L399.91,128.32 L400.01,131.34 L400.11,134.52 L400.21,128.99 L400.31,128.29 L400.41,128.80 L400.51,133.01 L400.61,133.50 L400.71,129.40 L400.81,130.84 L400.91,134.29 L401.01,130.54 L401.11,124.47 L401.21,126.52 L401.31,127.52 L401.41,130.14 L401.51,127.30 L401.61,133.12 L401.71,127.58 L401.81,133.67 L401.91,127.05 L402.01,133.02 L402.11,129.59 L402.21,133.27 L402.31,134.88 L402.41,134.26 L402.51,132.17 L402.61,126.85 L402.71,126.67 L402.81,119.64 L402.91,133.48 L403.01,132.87 L403.11,132.16 L403.21,125.76 L403.31,137.33 L403.41,127.15 L403.51,131.73 L403.61,124.35 L403.71,127.35 L403.81,132.81 L403.91,132.23 L404.01,125.97 L404.11,128.93 L404.21,132.50 L404.31,123.72 L404.41,131.45 L404.51,124.58 L404.61,131.04 L404.71,128.39 L404.81,132.07 L404.91,127.61 L405.01,128.08 L405.11,128.08 L405.21,126.29 L405.31,128.29 L405.41,126.11 L405.51,127.45 L405.61,131.13 L405.71,128.17 L405.81,132.30 L405.91,131.23 L406.01,131.60 L406.11,125.81 L406.21,130.40 L406.31,133.44 L406.41,131.88 L406.51,132.84 L406.61,133.71 L406.71,124.81 L406.81,130.94 L406.91,130.90 L407.01,128.72 L407.11,125.46 L407.21,129.75 L407.31,128.87 L407.41,135.07 L407.51,133.21 L407.61,128.18 L407.71,126.31 L407.81,126.93 L407.91,129.27 L408.01,127.32 L408.11,135.23 L408.21,125.99 L408.31,129.22 L408.41,129.93 L408.51,130.73 L408.61,126.84 L408.71,128.90 L408.81,130.10 L408.91,130.55 L409.01,127.92 L409.11,128.74 L409.21,130.29 L409.31,135.22 L409.41,126.19 L409.51,131.73 L409.61,134.31 L409.71,125.71 L409.81,133.97 L409.91,133.88 L410.01,130.02 L410.11,132.66 L410.21,134.21 L410.31,129.54 L410.41,130.69 L410.51,126.98 L410.61,128.13 L410.71,130.37 L410.81,129.95 L410.91,134.89 L411.01,129.66 L411.11,126.86 L411.21,132.93 L411.31,133.06 L411.41,131.60 L411.51,130.10 L411.61,128.27 L411.71,128.72 L411.81,134.97 L411.92,132.88 L412.02,130.98 L412.12,131.92 L412.22,129.77 L412.32,128.15 L412.42,129.48 L412.52,130.70 L412.62,126.20 L412.72,126.79 L412.82,126.00 L412.92,129.66 L413.02,132.70 L413.12,127.17 L413.22,127.75 L413.32,126.45 L413.42,129.70 L413.52,127.66 L413.62,128.20 L413.72,127.95 L413.82,137.48 L413.92,130.87 L414.02,129.31 L414.12,129.92 L414.22,133.68 L414.32,134.01 L414.42,132.05 L414.52,125.79 L414.62,134.15 L414.72,134.42 L414.82,133.63 L414.92,132.82 L415.02,131.74 L415.12,134.92 L415.22,130.71 L415.32,134.52 L415.42,130.27 L415.52,130.56 L415.62,130.41 L415.72,130.11 L415.82,130.32 L415.92,133.83 L416.02,136.10 L416.12,129.78 L416.22,128.86 L416.32,135.28 L416.42,130.88 L416.52,132.60 L416.62,132.27 L416.72,134.40 L416.82,129.42 L416.92,135.09 L417.02,134.15 L417.12,125.82 L417.22,131.51 L417.32,130.92 L417.42,133.05 L417.52,131.84 L417.62,129.94 L417.72,131.09 L417.82,133.03 L417.92,132.20 L418.02,131.67 L418.12,138.26 L418.22,133.61 L418.32,129.08 L418.42,132.51 L418.52,133.10 L418.62,129.49 L418.72,132.56 L418.82,129.95 L418.92,126.16 L419.02,133.25 L419.12,134.05 L419.22,134.04 L419.32,131.96 L419.42,130.76 L419.52,133.06 L419.62,133.60 L419.72,134.97 L419.82,136.14 L419.92,134.71 L420.02,130.94 L420.12,132.39 L420.22,128.72 L420.32,134.53 L420.42,134.18 L420.52,135.86 L420.62,133.96 L420.72,136.93 L420.82,130.78 L420.92,133.59 L421.02,132.03 L421.12,132.12 L421.22,127.93 L421.32,130.72 L421.42,127.35 L421.52,131.86 L421.62,130.87 L421.72,133.13 L421.82,127.84 L421.92,131.37 L422.02,132.10 L422.12,126.56 L422.22,137.20 L422.32,134.09 L422.42,130.74 L422.52,137.89 L422.62,136.46 L422.72,126.18 L422.82,132.04 L422.92,131.18 L423.02,132.99 L423.12,130.33 L423.22,132.20 L423.32,133.12 L423.42,126.23 L423.52,133.27 L423.62,136.73 L423.72,133.31 L423.82,136.08 L423.92,137.27 L424.02,133.83 L424.12,134.13 L424.22,134.19 L424.32,132.00 L424.42,139.23 L424.52,134.37 L424.62,134.70 L424.72,135.78 L424.82,137.20 L424.92,129.65 L425.02,130.56 L425.12,133.67 L425.22,134.68 L425.32,130.07 L425.42,129.64 L425.52,135.33 L425.62,135.20 L425.72,132.51 L425.82,132.49 L425.92,131.57 L426.02,130.12 L426.12,130.90 L426.22,133.66 L426.32,132.71 L426.42,135.75 L426.52,129.68 L426.62,128.67 L426.72,134.66 L426.82,130.66 L426.92,132.31 L427.02,133.21 L427.12,129.80 L427.22,129.06 L427.32,133.81 L427.42,125.93 L427.52,134.72 L427.62,128.40 L427.72,135.19 L427.82,133.88 L427.92,133.68 L428.02,134.35 L428.12,133.43 L428.22,129.47 L428.32,135.23 L428.42,133.41 L428.52,134.29 L428.62,132.74 L428.72,132.41 L428.82,135.50 L428.92,135.54 L429.02,133.70 L429.12,129.96 L429.22,130.66 L429.32,130.48 L429.42,136.03 L429.52,134.45 L429.62,133.34 L429.72,132.80 L429.82,131.28 L429.92,135.32 L430.02,130.51 L430.12,130.99 L430.22,135.37 L430.32,134.80 L430.42,132.98 L430.52,129.86 L430.62,129.85 L430.72,135.29 L430.82,134.06 L430.92,136.91 L431.02,131.84 L431.12,132.83 L431.22,130.59 L431.32,137.25 L431.42,128.64 L431.52,134.54 L431.62,137.08 L431.72,130.45 L431.82,129.18 L431.92,130.25 L432.02,129.16 L432.12,133.69 L432.22,132.53 L432.32,130.41 L432.42,131.99 L432.52,136.56 L432.62,132.02 L432.72,131.62 L432.82,137.58 L432.92,130.30 L433.02,131.36 L433.12,136.28 L433.22,132.58 L433.32,127.58 L433.42,130.20 L433.52,126.63 L433.62,130.69 L433.72,133.12 L433.82,128.08 L433.92,136.15 L434.02,135.42 L434.12,134.22 L434.22,130.29 L434.32,132.20 L434.42,133.51 L434.52,134.51 L434.62,135.30 L434.72,126.53 L434.82,130.19 L434.92,129.02 L435.02,131.05 L435.12,132.27 L435.22,137.39 L435.32,131.16 L435.42,133.53 L435.52,131.35 L435.62,130.81 L435.72,135.16 L435.82,127.76 L435.92,132.11 L436.02,135.48 L436.12,138.72 L436.22,128.61 L436.32,127.39 L436.42,126.40 L436.52,128.37 L436.62,129.24 L436.72,129.11 L436.82,131.74 L436.92,127.94 L437.02,129.37 L437.12,124.23 L437.22,126.56 L437.32,127.66 L437.42,121.94 L437.52,128.01 L437.62,129.76 L437.72,127.57 L437.82,127.76 L437.92,127.03 L438.02,123.79 L438.12,126.35 L438.22,124.27 L438.32,125.37 L438.42,124.77 L438.52,124.34 L438.62,120.15 L438.72,122.78 L438.82,126.81 L438.92,124.21 L439.02,120.69 L439.12,118.87 L439.22,122.69 L439.32,119.61 L439.42,114.54 L439.52,117.37 L439.62,122.25 L439.72,113.07 L439.82,117.00 L439.92,114.34 L440.02,115.53 L440.12,114.03 L440.22,112.22 L440.32,107.24 L440.42,112.71 L440.52,112.74 L440.62,111.71 L440.72,108.68 L440.82,109.24 L440.92,116.02 L441.02,106.80 L441.12,108.68 L441.22,106.07 L441.32,108.55 L441.42,109.58 L441.53,111.91 L441.63,109.12 L441.73,108.35 L441.83,109.09 L441.93,109.43 L442.03,107.71 L442.13,107.75 L442.23,111.02 L442.33,105.94 L442.43,107.59 L442.53,105.40 L442.63,106.45 L442.73,111.70 L442.83,105.96 L442.93,109.14 L443.03,113.45 L443.13,109.80 L443.23,108.51 L443.33,107.40 L443.43,103.32 L443.53,107.94 L443.63,108.52 L443.73,113.88 L443.83,113.70 L443.93,109.06 L444.03,114.48 L444.13,111.70 L444.23,118.47 L444.33,118.03 L444.43,116.43 L444.53,114.18 L444.63,120.16 L444.73,118.36 L444.83,119.54 L444.93,118.45 L445.03,116.91 L445.13,120.03 L445.23,116.40 L445.33,120.96 L445.43,119.87 L445.53,115.71 L445.63,121.53 L445.73,120.62 L445.83,120.23 L445.93,121.43 L446.03,124.03 L446.13,119.67 L446.23,120.25 L446.33,125.14 L446.43,124.20 L446.53,119.88 L446.63,124.87 L446.73,120.79 L446.83,127.11 L446.93,126.50 L447.03,127.41 L447.13,122.86 L447.23,125.10 L447.33,129.54 L447.43,124.42 L447.53,129.51 L447.63,128.13 L447.73,129.43 L447.83,127.47 L447.93,131.36 L448.03,131.20 L448.13,132.41 L448.23,136.48 L448.33,130.01 L448.43,130.81 L448.53,128.17 L448.63,135.09 L448.73,130.07 L448.83,132.91 L448.93,128.36 L449.03,130.62 L449.13,132.80 L449.23,132.60 L449.33,130.86 L449.43,133.83 L449.53,132.03 L449.63,134.42 L449.73,131.38 L449.83,133.63 L449.93,131.01 L450.03,135.35 L450.13,132.36 L450.23,132.59 L450.33,131.16 L450.43,135.10 L450.53,133.12 L450.63,132.28 L450.73,136.12 L450.83,131.15 L450.93,135.48 L451.03,136.81 L451.13,129.08 L451.23,135.52 L451.33,134.75 L451.43,133.99 L451.53,134.45 L451.63,130.72 L451.73,134.97 L451.83,134.40 L451.93,130.33 L452.03,133.53 L452.13,131.08 L452.23,134.23 L452.33,131.86 L452.43,134.27 L452.53,130.57 L452.63,132.71 L452.73,133.03 L452.83,133.51 L452.93,136.77 L453.03,139.29 L453.13,130.38 L453.23,136.08 L453.33,133.41 L453.43,133.39 L453.53,133.36 L453.63,133.74 L453.73,133.91 L453.83,136.14 L453.93,137.22 L454.03,135.04 L454.13,134.31 L454.23,135.59 L454.33,135.20 L454.43,138.59 L454.53,131.97 L454.63,130.93 L454.73,133.61 L454.83,134.97 L454.93,133.71 L455.03,134.76 L455.13,128.07 L455.23,132.37 L455.33,132.62 L455.43,130.99 L455.53,132.74 L455.63,133.61 L455.73,135.08 L455.83,131.96 L455.93,130.21 L456.03,135.10 L456.13,138.67 L456.23,134.45 L456.33,134.36 L456.43,131.71 L456.53,134.53 L456.63,137.74 L456.73,129.37 L456.83,136.38 L456.93,129.37 L457.03,137.48 L457.13,135.90 L457.23,133.23 L457.33,134.62 L457.43,137.85 L457.53,131.42 L457.63,136.71 L457.73,135.31 L457.83,133.93 L457.93,137.32 L458.03,130.04 L458.13,133.61 L458.23,131.06 L458.33,133.74 L458.43,135.10 L458.53,130.05 L458.63,134.47 L458.73,134.46 L458.83,132.40 L458.93,133.57 L459.03,136.30 L459.13,134.47 L459.23,137.54 L459.33,131.23 L459.43,130.74 L459.53,136.46 L459.63,130.50 L459.73,136.47 L459.83,133.57 L459.93,135.17 L460.03,132.77 L460.13,135.98 L460.23,136.63 L460.33,136.31 L460.43,134.60 L460.53,130.34 L460.63,135.65 L460.73,133.61 L460.83,136.41 L460.93,129.77 L461.03,134.30 L461.13,132.20 L461.23,133.13 L461.33,135.20 L461.43,135.05 L461.53,136.42 L461.63,134.15 L461.73,134.31 L461.83,133.75 L461.93,130.31 L462.03,135.44 L462.13,131.00 L462.23,131.67 L462.33,133.83 L462.43,131.22 L462.53,131.67 L462.63,126.92 L462.73,130.62 L462.83,130.01 L462.93,131.09 L463.03,133.75 L463.13,131.82 L463.23,132.09 L463.33,132.63 L463.43,134.69 L463.53,134.82 L463.63,133.26 L463.73,131.69 L463.83,134.28 L463.93,131.52 L464.03,131.75 L464.13,132.84 L464.23,130.97 L464.33,129.54 L464.43,129.19 L464.53,131.30 L464.63,132.46 L464.73,133.40 L464.83,130.11 L464.93,132.37 L465.03,131.91 L465.13,130.75 L465.23,137.50 L465.33,129.97 L465.43,129.69 L465.53,131.86 L465.63,135.02 L465.73,130.59 L465.83,134.42 L465.93,128.99 L466.03,130.34 L466.13,130.74 L466.23,130.53 L466.33,131.18 L466.43,130.77 L466.53,130.48 L466.63,128.63 L466.73,131.96 L466.83,130.89 L466.93,131.28 L467.03,133.36 L467.13,131.77 L467.23,131.11 L467.33,133.71 L467.43,129.45 L467.53,126.85 L467.63,129.02 L467.73,127.48 L467.83,129.62 L467.93,129.59 L468.03,129.89 L468.13,130.61 L468.23,131.31 L468.33,130.80 L468.43,130.10 L468.53,129.01 L468.63,128.50 L468.73,129.48 L468.83,128.86 L468.93,126.94 L469.03,128.25 L469.13,130.34 L469.23,128.53 L469.33,126.18 L469.43,128.18 L469.53,128.68 L469.63,124.51 L469.73,130.24 L469.83,128.72 L469.93,125.46 L470.03,127.93 L470.13,125.65 L470.23,126.11 L470.33,122.37 L470.43,122.88 L470.53,123.07 L470.63,122.99 L470.73,121.75 L470.83,118.91 L470.93,119.59 L471.04,122.66 L471.14,120.41 L471.24,124.67 L471.34,123.57 L471.44,119.53 L471.54,119.81 L471.64,114.54 L471.74,119.56 L471.84,119.79 L471.94,114.88 L472.04,114.17 L472.14,113.95 L472.24,116.21 L472.34,116.24 L472.44,110.95 L472.54,111.64 L472.64,113.04 L472.74,111.64 L472.84,109.78 L472.94,110.97 L473.04,107.02 L473.14,105.00 L473.24,109.16 L473.34,108.76 L473.44,109.43 L473.54,105.00 L473.64,102.96 L473.74,104.02 L473.84,102.62 L473.94,101.91 L474.04,100.51 L474.14,102.78 L474.24,99.32 L474.34,100.72 L474.44,94.82 L474.54,93.05 L474.64,96.57 L474.74,90.44 L474.84,89.52 L474.94,88.49 L475.04,85.71 L475.14,90.22 L475.24,92.11 L475.34,88.36 L475.44,87.96 L475.54,83.78 L475.64,80.51 L475.74,82.43 L475.84,76.49 L475.94,73.78 L476.04,73.68 L476.14,76.74 L476.24,73.27 L476.34,69.93 L476.44,66.05 L476.54,64.61 L476.64,66.13 L476.74,63.31 L476.84,59.75 L476.94,62.98 L477.04,56.53 L477.14,52.23 L477.24,54.04 L477.34,55.80 L477.44,53.07 L477.54,52.12 L477.64,46.25 L477.74,48.42 L477.84,46.38 L477.94,44.14 L478.04,41.44 L478.14,49.20 L478.24,47.48 L478.34,47.06 L478.44,51.84 L478.54,57.95 L478.64,49.52 L478.74,58.19 L478.84,66.22 L478.94,70.22 L479.04,66.85 L479.14,72.13 L479.24,72.33 L479.34,80.26 L479.44,77.56 L479.54,79.87 L479.64,87.06 L479.74,81.74 L479.84,81.44 L479.94,86.99 L480.04,88.58 L480.14,89.77 L480.24,93.19 L480.34,89.81 L480.44,92.29 L480.54,95.30 L480.64,93.88 L480.74,99.34 L480.84,99.46 L480.94,98.34 L481.04,98.96 L481.14,100.48 L481.24,101.94 L481.34,97.32 L481.44,99.69 L481.54,101.65 L481.64,102.28 L481.74,103.55 L481.84,104.40 L481.94,106.76 L482.04,106.59 L482.14,108.90 L482.24,109.62 L482.34,109.54 L482.44,109.48 L482.54,109.39 L482.64,113.31 L482.74,110.95 L482.84,112.94 L482.94,114.71 L483.04,113.81 L483.14,110.18 L483.24,112.50 L483.34,119.13 L483.44,111.43 L483.54,118.37 L483.64,113.53 L483.74,116.64 L483.84,119.29 L483.94,115.09 L484.04,119.59 L484.14,111.64 L484.24,115.56 L484.34,113.75 L484.44,115.41 L484.54,115.53 L484.64,115.75 L484.74,114.95 L484.84,110.71 L484.94,108.87 L485.04,110.95 L485.14,107.34 L485.24,102.31 L485.34,100.73 L485.44,103.40 L485.54,102.02 L485.64,101.77 L485.74,100.67 L485.84,94.77 L485.94,97.25 L486.04,91.79 L486.14,93.58 L486.24,90.48 L486.34,92.35 L486.44,87.43 L486.54,83.19 L486.64,81.90 L486.74,80.62 L486.84,78.40 L486.94,73.09 L487.04,63.07 L487.14,56.82 L487.24,55.65 L487.34,47.88 L487.44,44.96 L487.54,37.61 L487.64,35.23 L487.74,26.52 L487.84,15.38 L487.94,16.60 L488.04,25.23 L488.14,26.51 L488.24,35.31 L488.34,42.94 L488.44,49.94 L488.54,55.10 L488.64,54.71 L488.74,67.53 L488.84,68.10 L488.94,76.42 L489.04,78.38 L489.14,84.56 L489.24,83.94 L489.34,86.52 L489.44,88.82 L489.54,89.42 L489.64,89.91 L489.74,96.65 L489.84,96.48 L489.94,98.74 L490.04,94.64 L490.14,95.56 L490.24,105.03 L490.34,103.76 L490.44,98.99 L490.54,104.97 L490.64,105.15 L490.74,103.66 L490.84,105.89 L490.94,111.96 L491.04,107.14 L491.14,110.81 L491.24,108.86 L491.34,108.20 L491.44,118.00 L491.54,115.05 L491.64,113.43 L491.74,114.63 L491.84,115.79 L491.94,115.02 L492.04,119.26 L492.14,120.62 L492.24,119.27 L492.34,121.03 L492.44,118.98 L492.54,122.62 L492.64,118.05 L492.74,122.37 L492.84,126.01 L492.94,122.52 L493.04,129.27 L493.14,121.32 L493.24,123.42 L493.34,124.18 L493.44,126.48 L493.54,127.36 L493.64,125.42 L493.74,122.08 L493.84,128.65 L493.94,127.26 L494.04,127.86 L494.14,123.01 L494.24,127.68 L494.34,126.57 L494.44,129.24 L494.54,131.13 L494.64,125.93 L494.74,127.76 L494.84,128.33 L494.94,126.89 L495.04,129.87 L495.14,129.93 L495.24,127.10 L495.34,127.28 L495.44,129.77 L495.54,125.60 L495.64,130.14 L495.74,131.41 L495.84,131.53 L495.94,127.90 L496.04,133.75 L496.14,134.49 L496.24,127.92 L496.34,134.04 L496.44,133.31 L496.54,132.59 L496.64,129.27 L496.74,133.13 L496.84,128.84 L496.94,131.40 L497.04,133.13 L497.14,132.57 L497.24,130.99 L497.34,132.43 L497.44,131.45 L497.54,132.37 L497.64,130.25 L497.74,129.46 L497.84,130.80 L497.94,129.45 L498.04,134.41 L498.14,137.50 L498.24,133.60 L498.34,134.66 L498.44,130.09 L498.54,132.05 L498.64,130.06 L498.74,133.77 L498.84,132.73 L498.94,130.46 L499.04,135.51 L499.14,132.57 L499.24,134.30 L499.34,134.59 L499.44,135.74 L499.54,135.49 L499.64,132.95 L499.74,132.44 L499.84,131.62 L499.94,130.80 L500.04,136.54 L500.14,131.64 L500.24,135.58 L500.34,130.77 L500.44,130.95 L500.55,134.28 L500.65,131.81 L500.75,130.38 L500.85,135.22 L500.95,129.16 L501.05,130.01 L501.15,132.94 L501.25,134.53 L501.35,131.30 L501.45,129.49 L501.55,135.66 L501.65,131.00 L501.75,129.58 L501.85,131.01 L501.95,133.08 L502.05,124.79 L502.15,128.31 L502.25,131.82 L502.35,131.36 L502.45,130.27 L502.55,129.76 L502.65,131.17 L502.75,132.07 L502.85,128.63 L502.95,128.82 L503.05,131.13 L503.15,128.73 L503.25,126.58 L503.35,128.74 L503.45,126.71 L503.55,130.08 L503.65,130.47 L503.75,127.26 L503.85,128.17 L503.95,129.03 L504.05,130.73 L504.15,130.11 L504.25,128.49 L504.35,128.56 L504.45,130.49 L504.55,128.94 L504.65,128.55 L504.75,125.17 L504.85,127.62 L504.95,128.00 L505.05,126.92 L505.15,124.08 L505.25,121.91 L505.35,126.27 L505.45,125.74 L505.55,124.15 L505.65,121.46 L505.75,121.76 L505.85,121.98 L505.95,123.09 L506.05,121.18 L506.15,118.72 L506.25,118.62 L506.35,116.35 L506.45,121.69 L506.55,115.54 L506.65,119.18 L506.75,115.87 L506.85,118.26 L506.95,111.27 L507.05,114.23 L507.15,110.03 L507.25,109.53 L507.35,109.30 L507.45,107.51 L507.55,107.85 L507.65,108.65 L507.75,112.19 L507.85,107.18 L507.95,104.30 L508.05,108.36 L508.15,109.46 L508.25,100.44 L508.35,106.40 L508.45,102.16 L508.55,101.36 L508.65,106.94 L508.75,108.88 L508.85,109.89 L508.95,106.18 L509.05,105.51 L509.15,106.90 L509.25,107.99 L509.35,108.84 L509.45,110.07 L509.55,108.53 L509.65,109.77 L509.75,109.84 L509.85,108.59 L509.95,111.98 L510.05,115.03 L510.15,114.35 L510.25,109.09 L510.35,117.79 L510.45,113.63 L510.55,121.12 L510.65,121.70 L510.75,119.53 L510.85,122.85 L510.95,118.14 L511.05,120.16 L511.15,119.71 L511.25,122.49 L511.35,122.45 L511.45,123.40 L511.55,123.74 L511.65,127.15 L511.75,124.70 L511.85,124.37 L511.95,126.06 L512.05,127.18 L512.15,127.28 L512.25,124.44 L512.35,125.68 L512.45,126.22 L512.55,125.11 L512.65,123.88 L512.75,126.06 L512.85,122.09 L512.95,127.03 L513.05,125.17 L513.15,127.31 L513.25,127.86 L513.35,132.24 L513.45,132.60 L513.55,133.30 L513.65,129.12 L513.75,128.12 L513.85,131.04 L513.95,127.36 L514.05,129.48 L514.15,128.28 L514.25,129.92 L514.35,131.76 L514.45,128.17 L514.55,131.10 L514.65,131.13 L514.75,131.37 L514.85,132.10 L514.95,130.47 L515.05,131.21 L515.15,130.68 L515.25,128.25 L515.35,134.52 L515.45,132.93 L515.55,132.90 L515.65,130.21 L515.75,127.99 L515.85,132.16 L515.95,129.78 L516.05,135.35 L516.15,135.27 L516.25,130.67 L516.35,134.52 L516.45,133.29 L516.55,131.68 L516.65,128.68 L516.75,133.16 L516.85,133.77 L516.95,133.88 L517.05,130.98 L517.15,132.22 L517.25,132.29 L517.35,132.30 L517.45,131.02 L517.55,134.52 L517.65,133.52 L517.75,131.59 L517.85,133.30 L517.95,134.46 L518.05,133.20 L518.15,133.17 L518.25,134.15 L518.35,131.04 L518.45,134.04 L518.55,131.30 L518.65,133.11 L518.75,135.24 L518.85,131.84 L518.95,135.16 L519.05,134.19 L519.15,135.67 L519.25,129.87 L519.35,125.09 L519.45,131.07 L519.55,137.28 L519.65,133.71 L519.75,132.62 L519.85,133.25 L519.95,134.16 L520.05,132.91 L520.15,137.97 L520.25,133.50 L520.35,130.55 L520.45,130.61 L520.55,132.98 L520.65,133.20 L520.75,134.88 L520.85,135.13 L520.95,135.28 L521.05,131.10 L521.15,134.04 L521.25,131.83 L521.35,133.51 L521.45,131.02 L521.55,135.82 L521.65,135.97 L521.75,133.84 L521.85,131.19 L521.95,135.26 L522.05,133.71 L522.15,130.34 L522.25,134.40 L522.35,134.85 L522.45,134.05 L522.55,129.42 L522.65,134.45 L522.75,134.98 L522.85,131.80 L522.95,135.21 L523.05,134.03 L523.15,134.95 L523.25,129.45 L523.35,132.37 L523.45,133.93 L523.55,129.89 L523.65,133.16 L523.75,136.41 L523.85,129.76 L523.95,135.76 L524.05,134.71 L524.15,131.06 L524.25,131.22 L524.35,131.07 L524.45,133.48 L524.55,128.07 L524.65,134.18 L524.75,129.70 L524.85,132.04 L524.95,131.89 L525.05,134.33 L525.15,130.76 L525.25,131.11 L525.35,135.24 L525.45,136.18 L525.55,132.73 L525.65,132.12 L525.75,133.39 L525.85,133.02 L525.95,132.90 L526.05,130.86 L526.15,128.38 L526.25,133.39 L526.35,132.81 L526.45,135.26 L526.55,135.23 L526.65,136.33 L526.75,131.96 L526.85,134.49 L526.95,130.47 L527.05,133.56 L527.15,134.07 L527.25,131.57 L527.35,132.85 L527.45,138.08 L527.55,131.38 L527.65,135.26 L527.75,132.41 L527.85,135.01 L527.95,127.92 L528.05,130.52 L528.15,132.71 L528.25,136.63 L528.35,132.92 L528.45,130.74 L528.55,132.39 L528.65,134.89 L528.75,130.16 L528.85,133.46 L528.95,132.96 L529.05,132.56 L529.15,134.24 L529.25,131.90 L529.35,134.64 L529.45,134.79 L529.55,137.07 L529.65,134.27 L529.75,133.47 L529.85,131.38 L529.95,132.57 L530.05,131.01 L530.16,136.44 L530.26,128.89 L530.36,134.46 L530.46,134.52 L530.56,134.89 L530.66,132.63 L530.76,138.00 L530.86,132.80 L530.96,130.20 L531.06,132.05 L531.16,131.86 L531.26,135.99 L531.36,133.22 L531.46,131.40 L531.56,131.37 L531.66,132.92 L531.76,132.25 L531.86,132.97 L531.96,135.20 L532.06,130.32 L532.16,131.75 L532.26,133.58 L532.36,130.05 L532.46,134.36 L532.56,135.86 L532.66,133.33 L532.76,134.75 L532.86,132.38 L532.96,133.11 L533.06,133.63 L533.16,132.98 L533.26,135.53 L533.36,132.09 L533.46,134.85 L533.56,132.11 L533.66,136.17 L533.76,135.74 L533.86,133.63 L533.96,130.06 L534.06,130.93 L534.16,127.08 L534.26,133.95 L534.36,131.07 L534.46,130.29 L534.56,131.64 L534.66,128.44 L534.76,130.21 L534.86,131.34 L534.96,132.76 L535.06,135.16 L535.16,128.77 L535.26,132.11 L535.36,128.78 L535.46,127.72 L535.56,130.38 L535.66,129.32 L535.76,126.14 L535.86,128.96 L535.96,132.88 L536.06,127.14 L536.16,126.95 L536.26,130.86 L536.36,128.58 L536.46,126.21 L536.56,128.36 L536.66,125.95 L536.76,125.06 L536.86,127.10 L536.96,124.11 L537.06,127.17 L537.16,128.47 L537.26,123.48 L537.36,123.04 L537.46,122.60 L537.56,123.64 L537.66,121.72 L537.76,123.17 L537.86,124.26 L537.96,119.98 L538.06,122.35 L538.16,123.92 L538.26,122.91 L538.36,118.89 L538.46,123.07 L538.56,118.06 L538.66,121.81 L538.76,116.02 L538.86,120.26 L538.96,117.99 L539.06,117.56 L539.16,117.06 L539.26,115.47 L539.36,118.11 L539.46,117.12 L539.56,118.15 L539.66,114.31 L539.76,117.23 L539.86,117.47 L539.96,113.08 L540.06,117.26 L540.16,117.52 L540.26,111.39 L540.36,111.59 L540.46,118.43 L540.56,113.60 L540.66,112.23 L540.76,110.19 L540.86,113.22 L540.96,110.50 L541.06,111.99 L541.16,111.33 L541.26,111.63 L541.36,111.77 L541.46,109.49 L541.56,110.82 L541.66,110.84 L541.76,108.74 L541.86,107.48 L541.96,109.33 L542.06,111.86 L542.16,107.82 L542.26,106.95 L542.36,108.35 L542.46,106.44 L542.56,107.34 L542.66,106.83 L542.76,105.41 L542.86,107.11 L542.96,104.61 L543.06,105.20 L543.16,103.53 L543.26,105.78 L543.36,108.26 L543.46,110.62 L543.56,114.92 L543.66,108.57 L543.76,108.22 L543.86,113.65 L543.96,106.79 L544.06,112.07 L544.16,111.18 L544.26,114.32 L544.36,110.89 L544.46,112.14 L544.56,108.66 L544.66,111.37 L544.76,113.03 L544.86,112.39 L544.96,112.53 L545.06,116.67 L545.16,111.88 L545.26,111.91 L545.36,112.75 L545.46,114.72 L545.56,114.71 L545.66,116.48 L545.76,116.11 L545.86,121.61 L545.96,117.05 L546.06,118.64 L546.16,120.63 L546.26,124.83 L546.36,120.49 L546.46,120.44 L546.56,124.27 L546.66,122.13 L546.76,120.51 L546.86,121.26 L546.96,124.18 L547.06,123.02 L547.16,128.66 L547.26,127.79 L547.36,130.55 L547.46,127.90 L547.56,127.04 L547.66,129.34 L547.76,129.52 L547.86,126.65 L547.96,132.10 L548.06,129.36 L548.16,130.85 L548.26,128.39 L548.36,131.76 L548.46,134.44 L548.56,129.89 L548.66,128.51 L548.76,131.01 L548.86,131.25 L548.96,132.52 L549.06,128.32 L549.16,133.74 L549.26,132.50 L549.36,131.60 L549.46,129.99 L549.56,133.07 L549.66,135.04 L549.76,134.07 L549.86,134.30 L549.96,133.71 L550.06,134.20 L550.16,130.80 L550.26,136.34 L550.36,135.33 L550.46,132.65 L550.56,133.15 L550.66,130.19 L550.76,131.11 L550.86,133.53 L550.96,131.20 L551.06,130.25 L551.16,131.72 L551.26,133.43 L551.36,130.02 L551.46,132.92 L551.56,133.04 L551.66,133.02 L551.76,132.72 L551.86,131.72 L551.96,130.90 L552.06,133.27 L552.16,129.42 L552.26,133.57 L552.36,128.48 L552.46,130.43 L552.56,131.25 L552.66,127.11 L552.76,131.57 L552.86,132.60 L552.96,128.20 L553.06,129.83 L553.16,131.68 L553.26,131.50 L553.36,131.72 L553.46,126.29 L553.56,128.63 L553.66,131.05 L553.76,125.44 L553.86,125.50 L553.96,127.36 L554.06,127.04 L554.16,124.04 L554.26,124.54 L554.36,125.87 L554.46,126.00 L554.56,129.09 L554.66,126.97 L554.76,125.27 L554.86,124.39 L554.96,125.56 L555.06,129.00 L555.16,122.74 L555.26,121.31 L555.36,120.29 L555.46,122.36 L555.56,119.67 L555.66,117.80 L555.76,119.68 L555.86,119.31 L555.96,122.43 L556.06,123.33 L556.16,118.72 L556.26,118.03 L556.36,120.46 L556.46,117.70 L556.56,116.26 L556.66,118.07 L556.76,113.81 L556.86,116.39 L556.96,118.67 L557.06,110.77 L557.16,113.99 L557.26,111.92 L557.36,114.38 L557.46,113.08 L557.56,108.63 L557.66,109.21 L557.76,106.81 L557.86,109.83 L557.96,104.92 L558.06,105.61 L558.16,106.78 L558.26,102.99 L558.36,100.74 L558.46,99.65 L558.56,98.99 L558.66,99.84 L558.76,97.94 L558.86,97.55 L558.96,94.46 L559.06,95.21 L559.16,92.81 L559.26,93.04 L559.36,87.46 L559.46,84.92 L559.56,89.19 L559.67,85.98 L559.77,79.29 L559.87,81.36 L559.97,82.38 L560.07,82.88 L560.17,84.21 L560.27,80.29 L560.37,77.15 L560.47,75.89 L560.57,76.27 L560.67,77.89 L560.77,78.19 L560.87,81.81 L560.97,85.43 L561.07,85.49 L561.17,83.49 L561.27,88.06 L561.37,89.76 L561.47,87.79 L561.57,88.30 L561.67,89.61 L561.77,91.34 L561.87,86.85 L561.97,89.93 L562.07,90.10 L562.17,94.31 L562.27,96.61 L562.37,95.76 L562.47,100.43 L562.57,99.99 L562.67,101.36 L562.77,102.10 L562.87,100.63 L562.97,107.68 L563.07,105.69 L563.17,103.00 L563.27,108.70 L563.37,110.41 L563.47,107.12 L563.57,110.82 L563.67,114.57 L563.77,113.30 L563.87,113.20 L563.97,113.84 L564.07,115.40 L564.17,113.32 L564.27,115.23 L564.37,117.43 L564.47,117.59 L564.57,121.00 L564.67,115.60 L564.77,123.97 L564.87,119.59 L564.97,119.75 L565.07,121.46 L565.17,124.17 L565.27,122.22 L565.37,125.83 L565.47,126.01 L565.57,124.46 L565.67,124.59 L565.77,125.15 L565.87,126.48 L565.97,123.85 L566.07,129.76 L566.17,127.79 L566.27,128.69 L566.37,127.29 L566.47,127.53 L566.57,131.78 L566.67,125.50 L566.77,129.76 L566.87,128.02 L566.97,126.50 L567.07,131.13 L567.17,128.32 L567.27,131.43 L567.37,129.60 L567.47,126.41 L567.57,130.39 L567.67,128.51 L567.77,130.44 L567.87,130.44 L567.97,132.04 L568.07,131.56 L568.17,131.00 L568.27,130.55 L568.37,129.15 L568.47,128.10 L568.57,132.63 L568.67,130.10 L568.77,131.66 L568.87,134.03 L568.97,134.57 L569.07,134.62 L569.17,133.28 L569.27,133.71 L569.37,133.59 L569.47,133.25 L569.57,130.44 L569.67,133.15 L569.77,134.29 L569.87,132.38 L569.97,132.63 L570.07,127.71 L570.17,130.35 L570.27,136.71 L570.37,130.24 L570.47,133.15 L570.57,134.34 L570.67,133.81 L570.77,132.24 L570.87,131.73 L570.97,129.34 L571.07,134.90 L571.17,131.79 L571.27,133.73 L571.37,128.54 L571.47,127.76 L571.57,127.63 L571.67,132.79 L571.77,130.64 L571.87,130.61 L571.97,131.56 L572.07,130.62 L572.17,129.88 L572.27,127.46 L572.37,126.05 L572.47,127.34 L572.57,128.15 L572.67,124.34 L572.77,124.78 L572.87,123.09 L572.97,123.81 L573.07,119.83 L573.17,124.91 L573.27,124.03 L573.37,120.26 L573.47,119.25 L573.57,115.64 L573.67,120.11 L573.77,118.10 L573.87,117.61 L573.97,114.54 L574.07,119.90 L574.17,122.92 L574.27,118.16 L574.37,120.66 L574.47,124.30 L574.57,124.15 L574.67,124.84 L574.77,129.98 L574.87,127.36 L574.97,125.59 L575.07,120.52 L575.17,126.04 L575.27,124.38 L575.37,125.10 L575.47,130.45 L575.57,126.59 L575.67,128.91 L575.77,132.41 L575.87,128.98 L575.97,129.90 L576.07,128.93 L576.17,130.34 L576.27,128.30 L576.37,131.82 L576.47,130.19 L576.57,132.44 L576.67,132.85 L576.77,131.64 L576.87,132.12 L576.97,131.25 L577.07,133.06 L577.17,133.90 L577.27,133.13 L577.37,135.01 L577.47,132.94 L577.57,132.60 L577.67,133.70 L577.77,129.91 L577.87,132.05 L577.97,129.25 L578.07,133.60 L578.17,134.92 L578.27,130.81 L578.37,131.91 L578.47,132.20 L578.57,135.55 L578.67,134.12 L578.77,135.91 L578.87,134.74 L578.97,134.85 L579.07,130.05 L579.17,129.78 L579.27,136.15 L579.37,138.15 L579.47,131.53 L579.57,131.81 L579.67,136.14 L579.77,137.89 L579.87,131.92 L579.97,132.83 L580.07,135.94 L580.17,134.81 L580.27,134.85 L580.37,135.83 L580.47,132.10 L580.57,132.60 L580.67,137.21 L580.77,131.25 L580.87,135.98 L580.97,133.46 L581.07,136.99 L581.17,134.28 L581.27,134.12 L581.37,136.69 L581.47,134.59 L581.57,134.62 L581.67,130.21 L581.77,135.79 L581.87,134.48 L581.97,136.81 L582.07,134.07 L582.17,132.66 L582.27,137.30 L582.37,134.75 L582.47,134.26 L582.57,132.13 L582.67,137.36 L582.77,136.44 L582.87,132.75 L582.97,136.03 L583.07,135.57 L583.17,136.84 L583.27,134.54 L583.37,138.56 L583.47,130.68 L583.57,131.36 L583.67,135.67 L583.77,136.07 L583.87,135.15 L583.97,138.86 L584.07,135.02 L584.17,131.23 L584.27,137.30 L584.37,134.50 L584.47,133.61 L584.57,135.44 L584.67,135.38 L584.77,133.48 L584.87,135.77 L584.97,134.95 L585.07,133.86 L585.17,133.88 L585.27,130.12 L585.37,132.29 L585.47,132.36 L585.57,133.05 L585.67,136.52 L585.77,133.64 L585.87,132.79 L585.97,130.94 L586.07,132.37 L586.17,131.27 L586.27,130.95 L586.37,132.69 L586.47,129.39 L586.57,130.95 L586.67,133.97 L586.77,132.18 L586.87,130.15 L586.97,130.66 L587.07,130.13 L587.17,133.69 L587.27,133.39 L587.37,133.99 L587.47,129.98 L587.57,130.31 L587.67,131.93 L587.77,128.07 L587.87,128.98 L587.97,131.77 L588.07,128.53 L588.17,127.68 L588.27,129.83 L588.37,128.07 L588.47,127.02 L588.57,128.08 L588.67,124.23 L588.77,128.49 L588.87,127.13 L588.97,127.09 L589.07,126.48 L589.18,127.02 L589.28,122.07 L589.38,125.11 L589.48,127.37 L589.58,122.93 L589.68,122.24 L589.78,122.15 L589.88,120.36 L589.98,127.62 L590.08,121.80 L590.18,123.32 L590.28,119.62 L590.38,119.73 L590.48,118.91 L590.58,117.39 L590.68,118.91 L590.78,121.69 L590.88,117.72 L590.98,120.64 L591.08,122.18 L591.18,118.91 L591.28,119.99 L591.38,119.92 L591.48,115.93 L591.58,115.80 L591.68,112.92 L591.78,115.08 L591.88,117.90 L591.98,115.79 L592.08,114.74 L592.18,114.02 L592.28,113.15 L592.38,113.84 L592.48,119.02 L592.58,116.90 L592.68,114.88 L592.78,113.73 L592.88,112.72 L592.98,115.92 L593.08,112.87 L593.18,112.95 L593.28,113.24 L593.38,116.70 L593.48,114.69 L593.58,117.80 L593.68,113.43 L593.78,113.60 L593.88,113.00 L593.98,115.79 L594.08,113.48 L594.18,114.93 L594.28,118.82 L594.38,117.48 L594.48,116.07 L594.58,116.36 L594.68,110.58 L594.78,112.65 L594.88,118.27 L594.98,115.06 L595.08,115.65 L595.18,119.01 L595.28,115.02 L595.38,117.98 L595.48,117.32 L595.58,118.42 L595.68,118.16 L595.78,121.80 L595.88,120.04 L595.98,121.85 L596.08,117.55 L596.18,118.63 L596.28,119.46 L596.38,122.00 L596.48,120.48 L596.58,118.42 L596.68,116.13 L596.78,118.53 L596.88,116.19 L596.98,116.32 L597.08,117.04 L597.18,117.33 L597.28,116.05 L597.38,118.42 L597.48,114.92 L597.58,112.03 L597.68,112.98 L597.78,108.78 L597.88,111.44 L597.98,110.81 L598.08,109.86 L598.18,105.34 L598.28,108.30 L598.38,106.92 L598.48,107.68 L598.58,104.04 L598.68,101.74 L598.78,100.07 L598.88,97.43 L598.98,94.98 L599.08,93.55 L599.18,95.11 L599.28,90.75 L599.38,89.28 L599.48,86.43 L599.58,86.31 L599.68,85.37 L599.78,83.25 L599.88,80.04 L599.98,83.29 L600.08,89.46 L600.18,87.13 L600.28,87.52 L600.38,87.75 L600.48,87.10 L600.58,87.56 L600.68,91.83 L600.78,93.83 L600.88,93.25 L600.98,95.94 L601.08,98.55 L601.18,99.72 L601.28,102.15 L601.38,98.73 L601.48,103.99 L601.58,106.59 L601.68,107.62 L601.78,106.82 L601.88,108.10 L601.98,116.24 L602.08,113.80 L602.18,117.35 L602.28,117.53 L602.38,118.03 L602.48,120.84 L602.58,122.30 L602.68,121.05 L602.78,121.21 L602.88,123.86 L602.98,122.43 L603.08,122.91 L603.18,122.89 L603.28,124.85 L603.38,124.67 L603.48,125.09 L603.58,125.42 L603.68,126.88 L603.78,129.20 L603.88,127.38 L603.98,126.60 L604.08,132.59 L604.18,131.04 L604.28,128.89 L604.38,126.94 L604.48,132.43 L604.58,129.08 L604.68,130.60 L604.78,126.15 L604.88,132.43 L604.98,133.39 L605.08,131.24 L605.18,131.33 L605.28,131.85 L605.38,129.98 L605.48,130.34 L605.58,134.54 L605.68,132.31 L605.78,133.10 L605.88,133.16 L605.98,135.07 L606.08,133.60 L606.18,134.77 L606.28,135.14 L606.38,132.93 L606.48,133.74 L606.58,134.84 L606.68,135.80 L606.78,134.92 L606.88,135.13 L606.98,132.55 L607.08,133.55 L607.18,135.16 L607.28,134.03 L607.38,134.45 L607.48,134.78 L607.58,137.46 L607.68,133.14 L607.78,136.41 L607.88,136.17 L607.98,135.44 L608.08,133.77 L608.18,135.14 L608.28,134.27 L608.38,136.69 L608.48,135.29 L608.58,135.58 L608.68,133.84 L608.78,137.61 L608.88,131.99 L608.98,139.74 L609.08,133.70 L609.18,134.34 L609.28,134.56 L609.38,132.73 L609.48,137.08 L609.58,133.93 L609.68,133.57 L609.78,137.01 L609.88,136.11 L609.98,132.03 L610.08,132.57 L610.18,134.98 L610.28,135.31 L610.38,136.22 L610.48,134.89 L610.58,137.37 L610.68,137.13 L610.78,135.97 L610.88,135.31 L610.98,137.28 L611.08,137.76 L611.18,135.78 L611.28,135.17 L611.38,136.63 L611.48,134.37 L611.58,135.91 L611.68,136.64 L611.78,133.31 L611.88,133.89 L611.98,131.81 L612.08,134.21 L612.18,136.08 L612.28,134.38 L612.38,136.05 L612.48,135.28 L612.58,133.84 L612.68,137.63 L612.78,134.95 L612.88,137.01 L612.98,136.00 L613.08,135.17 L613.18,138.32 L613.28,134.62 L613.38,134.20 L613.48,137.60 L613.58,135.97 L613.68,133.98 L613.78,134.65 L613.88,133.03 L613.98,136.30 L614.08,137.32 L614.18,136.23 L614.28,136.60 L614.38,137.64 L614.48,135.64 L614.58,134.02 L614.68,134.13 L614.78,136.00 L614.88,135.75 L614.98,135.72 L615.08,133.33 L615.18,135.30 L615.28,137.89 L615.38,135.46 L615.48,137.49 L615.58,135.91 L615.68,134.92 L615.78,137.46 L615.88,138.40 L615.98,136.62 L616.08,137.68 L616.18,134.74 L616.28,133.55 L616.38,132.32 L616.48,135.55 L616.58,138.12 L616.68,134.52 L616.78,132.98 L616.88,135.59 L616.98,135.45 L617.08,135.34 L617.18,133.60 L617.28,138.05 L617.38,134.22 L617.48,134.87 L617.58,132.47 L617.68,136.19 L617.78,138.24 L617.88,137.04 L617.98,133.04 L618.08,136.45 L618.18,133.17 L618.28,134.66 L618.38,134.39 L618.48,136.41 L618.58,136.00 L618.68,134.54 L618.79,134.86 L618.89,137.63 L618.99,132.47 L619.09,134.13 L619.19,138.87 L619.29,135.40 L619.39,133.52 L619.49,136.23 L619.59,136.95 L619.69,133.62 L619.79,135.13 L619.89,134.41 L619.99,136.76 L620.09,135.93 L620.19,134.36 L620.29,136.98 L620.39,134.50 L620.49,139.01 L620.59,137.51 L620.69,134.71 L620.79,135.61 L620.89,137.21 L620.99,136.02 L621.09,133.15 L621.19,133.99 L621.29,133.95 L621.39,134.25 L621.49,131.52 L621.59,135.86 L621.69,140.62 L621.79,134.81 L621.89,134.73 L621.99,134.05 L622.09,135.36 L622.19,133.19 L622.29,133.67 L622.39,135.11 L622.49,130.09 L622.59,132.98 L622.69,137.04 L622.79,135.48 L622.89,134.25 L622.99,134.42 L623.09,129.47 L623.19,135.13 L623.29,133.27 L623.39,136.10 L623.49,134.54 L623.59,135.04 L623.69,131.13 L623.79,130.91 L623.89,137.31 L623.99,133.27 L624.09,132.88 L624.19,136.14 L624.29,134.71 L624.39,134.76 L624.49,136.69 L624.59,134.06 L624.69,133.07 L624.79,132.60 L624.89,129.52 L624.99,133.06 L625.09,132.93 L625.19,131.98 L625.29,137.40 L625.39,131.29 L625.49,132.13 L625.59,131.77 L625.69,131.90 L625.79,133.91 L625.89,131.87 L625.99,133.61 L626.09,137.04 L626.19,131.81 L626.29,131.24 L626.39,131.38 L626.49,134.59 L626.59,132.96 L626.69,132.84 L626.79,131.46 L626.89,131.10 L626.99,135.41 L627.09,134.96 L627.19,130.26 L627.29,130.08 L627.39,130.72 L627.49,130.67 L627.59,133.14 L627.69,134.03 L627.79,131.27 L627.89,129.67 L627.99,132.99 L628.09,133.84 L628.19,128.32 L628.29,131.45 L628.39,129.09 L628.49,128.98 L628.59,128.95 L628.69,133.03 L628.79,131.02 L628.89,129.02 L628.99,130.07 L629.09,130.77 L629.19,127.33 L629.29,131.03 L629.39,127.90 L629.49,128.22 L629.59,132.47 L629.69,123.46 L629.79,131.30 L629.89,131.28 L629.99,128.67 L630.09,131.40 L630.19,129.80 L630.29,128.56 L630.39,130.56 L630.49,129.06 L630.59,129.57 L630.69,128.70 L630.79,135.49 L630.89,132.73 L630.99,130.51 L631.09,128.30 L631.19,129.43 L631.29,129.75 L631.39,129.34 L631.49,131.20 L631.59,131.46 L631.69,134.93 L631.79,134.66 L631.89,129.56 L631.99,134.92 L632.09,130.50 L632.19,134.41 L632.29,132.90 L632.39,132.74 L632.49,133.35 L632.59,131.62 L632.69,130.73 L632.79,136.52 L632.89,130.44 L632.99,134.70 L633.09,131.70 L633.19,134.34 L633.29,133.56 L633.39,134.03 L633.49,132.36 L633.59,134.62 L633.69,137.49 L633.79,135.63 L633.89,136.74 L633.99,133.40 L634.09,133.90 L634.19,136.15 L634.29,131.75 L634.39,136.75 L634.49,134.84 L634.59,134.62 L634.69,137.94 L634.79,133.68 L634.89,138.04 L634.99,133.25 L635.09,133.10 L635.19,137.23 L635.29,137.51 L635.39,132.73 L635.49,135.62 L635.59,139.12 L635.69,135.49 L635.79,133.06 L635.89,134.80 L635.99,135.43 L636.09,135.09 L636.19,133.34 L636.29,134.28 L636.39,136.15 L636.49,136.65 L636.59,135.29 L636.69,136.29 L636.79,135.83 L636.89,132.64 L636.99,138.40 L637.09,138.11 L637.19,135.63 L637.29,135.24 L637.39,135.67 L637.49,135.83 L637.59,137.02 L637.69,137.33 L637.79,135.01 L637.89,133.63 L637.99,133.52 L638.09,138.53 L638.19,135.12 L638.29,133.27 L638.39,131.17 L638.49,136.56 L638.59,135.20 L638.69,135.34 L638.79,133.07 L638.89,134.09 L638.99,133.85 L639.09,135.19 L639.19,138.66 L639.29,134.02 L639.39,132.86 L639.49,136.81 L639.59,136.62 L639.69,134.18 L639.79,135.26 L639.89,133.60 L639.99,138.59 L640.09,135.93 L640.19,132.15 L640.29,136.69 L640.39,136.83 L640.49,132.17 L640.59,134.87 L640.69,134.80 L640.79,131.75 L640.89,131.32 L640.99,140.09 L641.09,132.62 L641.19,135.70 L641.29,135.95 L641.39,136.53 L641.49,136.25 L641.59,134.69 L641.69,132.89 L641.79,132.03 L641.89,135.25 L641.99,132.55 L642.09,136.09 L642.19,133.81 L642.29,136.49 L642.39,131.00 L642.49,137.27 L642.59,133.30 L642.69,134.82 L642.79,131.30 L642.89,135.09 L642.99,134.19 L643.09,135.85 L643.19,134.95 L643.29,137.58 L643.39,130.59 L643.49,132.68 L643.59,130.93 L643.69,133.22 L643.79,135.19 L643.89,135.11 L643.99,132.08 L644.09,130.36 L644.19,133.12 L644.29,134.26 L644.39,130.25 L644.49,133.13 L644.59,131.45 L644.69,133.69 L644.79,131.53 L644.89,134.81 L644.99,131.68 L645.09,133.02 L645.19,138.97 L645.29,126.44 L645.39,132.45 L645.49,132.79 L645.59,133.90 L645.69,134.10 L645.79,133.66 L645.89,132.10 L645.99,133.07 L646.09,134.51 L646.19,130.62 L646.29,135.49 L646.39,133.44 L646.49,136.11 L646.59,133.05 L646.69,134.74 L646.79,133.45 L646.89,135.75 L646.99,136.26 L647.09,133.09 L647.19,135.54 L647.29,134.00 L647.39,135.58 L647.49,133.46 L647.59,133.57 L647.69,135.35 L647.79,136.28 L647.89,134.98 L647.99,135.49 L648.09,133.89 L648.19,136.65 L648.30,134.77 L648.40,133.09 L648.50,137.99 L648.60,132.69 L648.70,137.55 L648.80,135.61 L648.90,136.25 L649.00,139.68 L649.10,134.38 L649.20,133.67 L649.30,133.06 L649.40,135.60 L649.50,137.89 L649.60,135.36 L649.70,135.76 L649.80,136.24 L649.90,135.39 L650.00,136.36 L650.10,133.53 L650.20,131.86 L650.30,134.38 L650.40,134.71 L650.50,137.92 L650.60,136.39 L650.70,133.75 L650.80,138.19 L650.90,137.41 L651.00,134.55 L651.10,139.60 L651.20,136.13 L651.30,134.43 L651.40,135.28 L651.50,137.19 L651.60,136.31 L651.70,133.53 L651.80,138.80 L651.90,135.48 L652.00,134.27 L652.10,135.30 L652.20,136.08 L652.30,138.80 L652.40,138.37 L652.50,132.30 L652.60,135.05 L652.70,135.72 L652.80,136.10 L652.90,137.41 L653.00,136.87 L653.10,133.52 L653.20,138.82 L653.30,137.00 L653.40,132.13 L653.50,137.53 L653.60,136.06 L653.70,132.91 L653.80,135.70 L653.90,136.63 L654.00,135.84 L654.10,134.02 L654.20,135.10 L654.30,134.87 L654.40,134.50 L654.50,136.38 L654.60,133.57 L654.70,135.78 L654.80,136.30 L654.90,137.18 L655.00,136.32 L655.10,134.75 L655.20,134.57 L655.30,134.20 L655.40,138.47 L655.50,134.49 L655.60,133.74 L655.70,134.61 L655.80,136.91 L655.90,137.18 L656.00,132.49 L656.10,137.51 L656.20,135.34 L656.30,138.84 L656.40,138.34 L656.50,134.31 L656.60,133.72 L656.70,133.67 L656.80,134.78 L656.90,136.17 L657.00,136.21 L657.10,136.39 L657.20,136.81 L657.30,135.03 L657.40,135.48 L657.50,136.34 L657.60,137.77 L657.70,135.13 L657.80,134.30 L657.90,136.99 L658.00,136.06 L658.10,136.50 L658.20,135.33 L658.30,136.38 L658.40,134.75 L658.50,134.03 L658.60,135.84 L658.70,132.72 L658.80,136.56 L658.90,139.23 L659.00,133.44 L659.10,133.93 L659.20,136.33 L659.30,133.99 L659.40,136.32 L659.50,135.06 L659.60,134.52 L659.70,136.89 L659.80,134.31 L659.90,134.37 L660.00,132.79 L660.10,136.42 L660.20,135.18 L660.30,134.40 L660.40,136.94 L660.50,135.26 L660.60,137.67 L660.70,137.20 L660.80,134.87 L660.90,134.56 L661.00,138.44 L661.10,135.70 L661.20,134.73 L661.30,135.75 L661.40,132.87 L661.50,136.40 L661.60,133.60 L661.70,137.17 L661.80,134.95 L661.90,136.51 L662.00,139.29 L662.10,138.54 L662.20,135.72 L662.30,137.09 L662.40,134.31 L662.50,137.11 L662.60,138.90 L662.70,138.29 L662.80,138.65 L662.90,137.45 L663.00,134.58" fill="none" stroke="#2a6cfc" stroke-width="0.7" stroke-linejoin="round"/>
<line x1="12.50" y1="144.50" x2="328.10" y2="144.50" stroke="#222222" stroke-width="1.2"/>
<line x1="12.50" y1="142.10" x2="12.50" y2="146.90" stroke="#222222" stroke-width="1.1"/>
<text x="12.50" y="155.10" font-size="8.5" text-anchor="middle" dominant-baseline="central" fill="#2a2a2a">0</text>
<line x1="20.39" y1="142.20" x2="20.39" y2="144.50" stroke="#222222" stroke-width="0.9"/>
<line x1="28.28" y1="142.20" x2="28.28" y2="144.50" stroke="#222222" stroke-width="0.9"/>
<line x1="36.17" y1="142.20" x2="36.17" y2="144.50" stroke="#222222" stroke-width="0.9"/>
<line x1="44.06" y1="142.20" x2="44.06" y2="144.50" stroke="#222222" stroke-width="0.9"/>
<line x1="51.95" y1="142.10" x2="51.95" y2="146.90" stroke="#222222" stroke-width="1.1"/>
<text x="51.95" y="155.10" font-size="8.5" text-anchor="middle" dominant-baseline="central" fill="#2a2a2a">10</text>
<line x1="59.84" y1="142.20" x2="59.84" y2="144.50" stroke="#222222" stroke-width="0.9"/>
<line x1="67.73" y1="142.20" x2="67.73" y2="144.50" stroke="#222222" stroke-width="0.9"/>
<line x1="75.62" y1="142.20" x2="75.62" y2="144.50" stroke="#222222" stroke-width="0.9"/>
<line x1="83.51" y1="142.20" x2="83.51" y2="144.50" stroke="#222222" stroke-width="0.9"/>
<line x1="91.40" y1="142.10" x2="91.40" y2="146.90" stroke="#222222" stroke-width="1.1"/>
<text x="91.40" y="155.10" font-size="8.5" text-anchor="middle" dominant-baseline="central" fill="#2a2a2a">20</text>
<line x1="99.29" y1="142.20" x2="99.29" y2="144.50" stroke="#222222" stroke-width="0.9"/>
<line x1="107.18" y1="142.20" x2="107.18" y2="144.50" stroke="#222222" stroke-width="0.9"/>
<line x1="115.07" y1="142.20" x2="115.07" y2="144.50" stroke="#222222" stroke-width="0.9"/>
<line x1="122.96" y1="142.20" x2="122.96" y2="144.50" stroke="#222222" stroke-width="0.9"/>
<line x1="130.85" y1="142.10" x2="130.85" y2="146.90" stroke="#222222" stroke-width="1.1"/>
<text x="130.85" y="155.10" font-size="8.5" text-anchor="middle" dominant-baseline="central" fill="#2a2a2a">30</text>
<line x1="138.74" y1="142.20" x2="138.74" y2="144.50" stroke="#222222" stroke-width="0.9"/>
<line x1="146.63" y1="142.20" x2="146.63" y2="144.50" stroke="#222222" stroke-width="0.9"/>
<line x1="154.52" y1="142.20" x2="154.52" y2="144.50" stroke="#222222" stroke-width="0.9"/>
<line x1="162.41" y1="142.20" x2="162.41" y2="144.50" stroke="#222222" stroke-width="0.9"/>
<line x1="170.30" y1="142.10" x2="170.30" y2="146.90" stroke="#222222" stroke-width="1.1"/>
<text x="170.30" y="155.10" font-size="8.5" text-anchor="middle" dominant-baseline="central" fill="#2a2a2a">40</text>
<line x1="178.19" y1="142.20" x2="178.19" y2="144.50" stroke="#222222" stroke-width="0.9"/>
<line x1="186.08" y1="142.20" x2="186.08" y2="144.50" stroke="#222222" stroke-width="0.9"/>
<line x1="193.97" y1="142.20" x2="193.97" y2="144.50" stroke="#222222" stroke-width="0.9"/>
<line x1="201.86" y1="142.20" x2="201.86" y2="144.50" stroke="#222222" stroke-width="0.9"/>
<line x1="209.75" y1="142.10" x2="209.75" y2="146.90" stroke="#222222" stroke-width="1.1"/>
<text x="209.75" y="155.10" font-size="8.5" text-anchor="middle" dominant-baseline="central" fill="#2a2a2a">50</text>
<line x1="217.64" y1="142.20" x2="217.64" y2="144.50" stroke="#222222" stroke-width="0.9"/>
<line x1="225.53" y1="142.20" x2="225.53" y2="144.50" stroke="#222222" stroke-width="0.9"/>
<line x1="233.42" y1="142.20" x2="233.42" y2="144.50" stroke="#222222" stroke-width="0.9"/>
<line x1="241.31" y1="142.20" x2="241.31" y2="144.50" stroke="#222222" stroke-width="0.9"/>
<line x1="249.20" y1="142.10" x2="249.20" y2="146.90" stroke="#222222" stroke-width="1.1"/>
<text x="249.20" y="155.10" font-size="8.5" text-anchor="middle" dominant-baseline="central" fill="#2a2a2a">60</text>
<line x1="257.09" y1="142.20" x2="257.09" y2="144.50" stroke="#222222" stroke-width="0.9"/>
<line x1="264.98" y1="142.20" x2="264.98" y2="144.50" stroke="#222222" stroke-width="0.9"/>
<line x1="272.87" y1="142.20" x2="272.87" y2="144.50" stroke="#222222" stroke-width="0.9"/>
<line x1="280.76" y1="142.20" x2="280.76" y2="144.50" stroke="#222222" stroke-width="0.9"/>
<line x1="288.65" y1="142.10" x2="288.65" y2="146.90" stroke="#222222" stroke-width="1.1"/>
<text x="288.65" y="155.10" font-size="8.5" text-anchor="middle" dominant-baseline="central" fill="#2a2a2a">70</text>
<line x1="296.54" y1="142.20" x2="296.54" y2="144.50" stroke="#222222" stroke-width="0.9"/>
<line x1="304.43" y1="142.20" x2="304.43" y2="144.50" stroke="#222222" stroke-width="0.9"/>
<line x1="312.32" y1="142.20" x2="312.32" y2="144.50" stroke="#222222" stroke-width="0.9"/>
<line x1="320.21" y1="142.20" x2="320.21" y2="144.50" stroke="#222222" stroke-width="0.9"/>
<line x1="328.10" y1="142.10" x2="328.10" y2="146.90" stroke="#222222" stroke-width="1.1"/>
<text x="328.10" y="155.10" font-size="8.5" text-anchor="middle" dominant-baseline="central" fill="#2a2a2a">80</text>
<line x1="348.20" y1="143.50" x2="663.00" y2="143.50" stroke="#222222" stroke-width="1.2"/>
<line x1="348.20" y1="141.10" x2="348.20" y2="145.90" stroke="#222222" stroke-width="1.1"/>
<text x="348.20" y="154.00" font-size="8.5" text-anchor="middle" dominant-baseline="central" fill="#2a2a2a">0</text>
<line x1="356.07" y1="141.20" x2="356.07" y2="143.50" stroke="#222222" stroke-width="0.9"/>
<line x1="363.94" y1="141.20" x2="363.94" y2="143.50" stroke="#222222" stroke-width="0.9"/>
<line x1="371.81" y1="141.20" x2="371.81" y2="143.50" stroke="#222222" stroke-width="0.9"/>
<line x1="379.68" y1="141.20" x2="379.68" y2="143.50" stroke="#222222" stroke-width="0.9"/>
<line x1="387.55" y1="141.10" x2="387.55" y2="145.90" stroke="#222222" stroke-width="1.1"/>
<text x="387.55" y="154.00" font-size="8.5" text-anchor="middle" dominant-baseline="central" fill="#2a2a2a">10</text>
<line x1="395.42" y1="141.20" x2="395.42" y2="143.50" stroke="#222222" stroke-width="0.9"/>
<line x1="403.29" y1="141.20" x2="403.29" y2="143.50" stroke="#222222" stroke-width="0.9"/>
<line x1="411.16" y1="141.20" x2="411.16" y2="143.50" stroke="#222222" stroke-width="0.9"/>
<line x1="419.03" y1="141.20" x2="419.03" y2="143.50" stroke="#222222" stroke-width="0.9"/>
<line x1="426.90" y1="141.10" x2="426.90" y2="145.90" stroke="#222222" stroke-width="1.1"/>
<text x="426.90" y="154.00" font-size="8.5" text-anchor="middle" dominant-baseline="central" fill="#2a2a2a">20</text>
<line x1="434.77" y1="141.20" x2="434.77" y2="143.50" stroke="#222222" stroke-width="0.9"/>
<line x1="442.64" y1="141.20" x2="442.64" y2="143.50" stroke="#222222" stroke-width="0.9"/>
<line x1="450.51" y1="141.20" x2="450.51" y2="143.50" stroke="#222222" stroke-width="0.9"/>
<line x1="458.38" y1="141.20" x2="458.38" y2="143.50" stroke="#222222" stroke-width="0.9"/>
<line x1="466.25" y1="141.10" x2="466.25" y2="145.90" stroke="#222222" stroke-width="1.1"/>
<text x="466.25" y="154.00" font-size="8.5" text-anchor="middle" dominant-baseline="central" fill="#2a2a2a">30</text>
<line x1="474.12" y1="141.20" x2="474.12" y2="143.50" stroke="#222222" stroke-width="0.9"/>
<line x1="481.99" y1="141.20" x2="481.99" y2="143.50" stroke="#222222" stroke-width="0.9"/>
<line x1="489.86" y1="141.20" x2="489.86" y2="143.50" stroke="#222222" stroke-width="0.9"/>
<line x1="497.73" y1="141.20" x2="497.73" y2="143.50" stroke="#222222" stroke-width="0.9"/>
<line x1="505.60" y1="141.10" x2="505.60" y2="145.90" stroke="#222222" stroke-width="1.1"/>
<text x="505.60" y="154.00" font-size="8.5" text-anchor="middle" dominant-baseline="central" fill="#2a2a2a">40</text>
<line x1="513.47" y1="141.20" x2="513.47" y2="143.50" stroke="#222222" stroke-width="0.9"/>
<line x1="521.34" y1="141.20" x2="521.34" y2="143.50" stroke="#222222" stroke-width="0.9"/>
<line x1="529.21" y1="141.20" x2="529.21" y2="143.50" stroke="#222222" stroke-width="0.9"/>
<line x1="537.08" y1="141.20" x2="537.08" y2="143.50" stroke="#222222" stroke-width="0.9"/>
<line x1="544.95" y1="141.10" x2="544.95" y2="145.90" stroke="#222222" stroke-width="1.1"/>
<text x="544.95" y="154.00" font-size="8.5" text-anchor="middle" dominant-baseline="central" fill="#2a2a2a">50</text>
<line x1="552.82" y1="141.20" x2="552.82" y2="143.50" stroke="#222222" stroke-width="0.9"/>
<line x1="560.69" y1="141.20" x2="560.69" y2="143.50" stroke="#222222" stroke-width="0.9"/>
<line x1="568.56" y1="141.20" x2="568.56" y2="143.50" stroke="#222222" stroke-width="0.9"/>
<line x1="576.43" y1="141.20" x2="576.43" y2="143.50" stroke="#222222" stroke-width="0.9"/>
<line x1="584.30" y1="141.10" x2="584.30" y2="145.90" stroke="#222222" stroke-width="1.1"/>
<text x="584.30" y="154.00" font-size="8.5" text-anchor="middle" dominant-baseline="central" fill="#2a2a2a">60</text>
<line x1="592.17" y1="141.20" x2="592.17" y2="143.50" stroke="#222222" stroke-width="0.9"/>
<line x1="600.04" y1="141.20" x2="600.04" y2="143.50" stroke="#222222" stroke-width="0.9"/>
<line x1="607.91" y1="141.20" x2="607.91" y2="143.50" stroke="#222222" stroke-width="0.9"/>
<line x1="615.78" y1="141.20" x2="615.78" y2="143.50" stroke="#222222" stroke-width="0.9"/>
<line x1="623.65" y1="141.10" x2="623.65" y2="145.90" stroke="#222222" stroke-width="1.1"/>
<text x="623.65" y="154.00" font-size="8.5" text-anchor="middle" dominant-baseline="central" fill="#2a2a2a">70</text>
<line x1="631.52" y1="141.20" x2="631.52" y2="143.50" stroke="#222222" stroke-width="0.9"/>
<line x1="639.39" y1="141.20" x2="639.39" y2="143.50" stroke="#222222" stroke-width="0.9"/>
<line x1="647.26" y1="141.20" x2="647.26" y2="143.50" stroke="#222222" stroke-width="0.9"/>
<line x1="655.13" y1="141.20" x2="655.13" y2="143.50" stroke="#222222" stroke-width="0.9"/>
<line x1="663.00" y1="141.10" x2="663.00" y2="145.90" stroke="#222222" stroke-width="1.1"/>
<text x="663.00" y="154.00" font-size="8.5" text-anchor="middle" dominant-baseline="central" fill="#2a2a2a">80</text>
<line x1="12.50" y1="320.50" x2="328.40" y2="320.50" stroke="#222222" stroke-width="1.2"/>
<line x1="12.50" y1="318.10" x2="12.50" y2="322.90" stroke="#222222" stroke-width="1.1"/>
<text x="12.50" y="331.30" font-size="8.5" text-anchor="middle" dominant-baseline="central" fill="#2a2a2a">0</text>
<line x1="20.40" y1="318.20" x2="20.40" y2="320.50" stroke="#222222" stroke-width="0.9"/>
<line x1="28.29" y1="318.20" x2="28.29" y2="320.50" stroke="#222222" stroke-width="0.9"/>
<line x1="36.19" y1="318.20" x2="36.19" y2="320.50" stroke="#222222" stroke-width="0.9"/>
<line x1="44.09" y1="318.20" x2="44.09" y2="320.50" stroke="#222222" stroke-width="0.9"/>
<line x1="51.99" y1="318.10" x2="51.99" y2="322.90" stroke="#222222" stroke-width="1.1"/>
<text x="51.99" y="331.30" font-size="8.5" text-anchor="middle" dominant-baseline="central" fill="#2a2a2a">10</text>
<line x1="59.88" y1="318.20" x2="59.88" y2="320.50" stroke="#222222" stroke-width="0.9"/>
<line x1="67.78" y1="318.20" x2="67.78" y2="320.50" stroke="#222222" stroke-width="0.9"/>
<line x1="75.68" y1="318.20" x2="75.68" y2="320.50" stroke="#222222" stroke-width="0.9"/>
<line x1="83.58" y1="318.20" x2="83.58" y2="320.50" stroke="#222222" stroke-width="0.9"/>
<line x1="91.47" y1="318.10" x2="91.47" y2="322.90" stroke="#222222" stroke-width="1.1"/>
<text x="91.47" y="331.30" font-size="8.5" text-anchor="middle" dominant-baseline="central" fill="#2a2a2a">20</text>
<line x1="99.37" y1="318.20" x2="99.37" y2="320.50" stroke="#222222" stroke-width="0.9"/>
<line x1="107.27" y1="318.20" x2="107.27" y2="320.50" stroke="#222222" stroke-width="0.9"/>
<line x1="115.17" y1="318.20" x2="115.17" y2="320.50" stroke="#222222" stroke-width="0.9"/>
<line x1="123.06" y1="318.20" x2="123.06" y2="320.50" stroke="#222222" stroke-width="0.9"/>
<line x1="130.96" y1="318.10" x2="130.96" y2="322.90" stroke="#222222" stroke-width="1.1"/>
<text x="130.96" y="331.30" font-size="8.5" text-anchor="middle" dominant-baseline="central" fill="#2a2a2a">30</text>
<line x1="138.86" y1="318.20" x2="138.86" y2="320.50" stroke="#222222" stroke-width="0.9"/>
<line x1="146.76" y1="318.20" x2="146.76" y2="320.50" stroke="#222222" stroke-width="0.9"/>
<line x1="154.65" y1="318.20" x2="154.65" y2="320.50" stroke="#222222" stroke-width="0.9"/>
<line x1="162.55" y1="318.20" x2="162.55" y2="320.50" stroke="#222222" stroke-width="0.9"/>
<line x1="170.45" y1="318.10" x2="170.45" y2="322.90" stroke="#222222" stroke-width="1.1"/>
<text x="170.45" y="331.30" font-size="8.5" text-anchor="middle" dominant-baseline="central" fill="#2a2a2a">40</text>
<line x1="178.35" y1="318.20" x2="178.35" y2="320.50" stroke="#222222" stroke-width="0.9"/>
<line x1="186.24" y1="318.20" x2="186.24" y2="320.50" stroke="#222222" stroke-width="0.9"/>
<line x1="194.14" y1="318.20" x2="194.14" y2="320.50" stroke="#222222" stroke-width="0.9"/>
<line x1="202.04" y1="318.20" x2="202.04" y2="320.50" stroke="#222222" stroke-width="0.9"/>
<line x1="209.94" y1="318.10" x2="209.94" y2="322.90" stroke="#222222" stroke-width="1.1"/>
<text x="209.94" y="331.30" font-size="8.5" text-anchor="middle" dominant-baseline="central" fill="#2a2a2a">50</text>
<line x1="217.83" y1="318.20" x2="217.83" y2="320.50" stroke="#222222" stroke-width="0.9"/>
<line x1="225.73" y1="318.20" x2="225.73" y2="320.50" stroke="#222222" stroke-width="0.9"/>
<line x1="233.63" y1="318.20" x2="233.63" y2="320.50" stroke="#222222" stroke-width="0.9"/>
<line x1="241.53" y1="318.20" x2="241.53" y2="320.50" stroke="#222222" stroke-width="0.9"/>
<line x1="249.42" y1="318.10" x2="249.42" y2="322.90" stroke="#222222" stroke-width="1.1"/>
<text x="249.42" y="331.30" font-size="8.5" text-anchor="middle" dominant-baseline="central" fill="#2a2a2a">60</text>
<line x1="257.32" y1="318.20" x2="257.32" y2="320.50" stroke="#222222" stroke-width="0.9"/>
<line x1="265.22" y1="318.20" x2="265.22" y2="320.50" stroke="#222222" stroke-width="0.9"/>
<line x1="273.12" y1="318.20" x2="273.12" y2="320.50" stroke="#222222" stroke-width="0.9"/>
<line x1="281.01" y1="318.20" x2="281.01" y2="320.50" stroke="#222222" stroke-width="0.9"/>
<line x1="288.91" y1="318.10" x2="288.91" y2="322.90" stroke="#222222" stroke-width="1.1"/>
<text x="288.91" y="331.30" font-size="8.5" text-anchor="middle" dominant-baseline="central" fill="#2a2a2a">70</text>
<line x1="296.81" y1="318.20" x2="296.81" y2="320.50" stroke="#222222" stroke-width="0.9"/>
<line x1="304.71" y1="318.20" x2="304.71" y2="320.50" stroke="#222222" stroke-width="0.9"/>
<line x1="312.60" y1="318.20" x2="312.60" y2="320.50" stroke="#222222" stroke-width="0.9"/>
<line x1="320.50" y1="318.20" x2="320.50" y2="320.50" stroke="#222222" stroke-width="0.9"/>
<line x1="328.40" y1="318.10" x2="328.40" y2="322.90" stroke="#222222" stroke-width="1.1"/>
<text x="328.40" y="331.30" font-size="8.5" text-anchor="middle" dominant-baseline="central" fill="#2a2a2a">80</text>
<line x1="347.10" y1="322.90" x2="664.70" y2="322.90" stroke="#222222" stroke-width="1.2"/>
<line x1="347.10" y1="320.50" x2="347.10" y2="325.30" stroke="#222222" stroke-width="1.1"/>
<text x="347.10" y="333.40" font-size="8.5" text-anchor="middle" dominant-baseline="central" fill="#2a2a2a">0</text>
<line x1="355.04" y1="320.60" x2="355.04" y2="322.90" stroke="#222222" stroke-width="0.9"/>
<line x1="362.98" y1="320.60" x2="362.98" y2="322.90" stroke="#222222" stroke-width="0.9"/>
<line x1="370.92" y1="320.60" x2="370.92" y2="322.90" stroke="#222222" stroke-width="0.9"/>
<line x1="378.86" y1="320.60" x2="378.86" y2="322.90" stroke="#222222" stroke-width="0.9"/>
<line x1="386.80" y1="320.50" x2="386.80" y2="325.30" stroke="#222222" stroke-width="1.1"/>
<text x="386.80" y="333.40" font-size="8.5" text-anchor="middle" dominant-baseline="central" fill="#2a2a2a">10</text>
<line x1="394.74" y1="320.60" x2="394.74" y2="322.90" stroke="#222222" stroke-width="0.9"/>
<line x1="402.68" y1="320.60" x2="402.68" y2="322.90" stroke="#222222" stroke-width="0.9"/>
<line x1="410.62" y1="320.60" x2="410.62" y2="322.90" stroke="#222222" stroke-width="0.9"/>
<line x1="418.56" y1="320.60" x2="418.56" y2="322.90" stroke="#222222" stroke-width="0.9"/>
<line x1="426.50" y1="320.50" x2="426.50" y2="325.30" stroke="#222222" stroke-width="1.1"/>
<text x="426.50" y="333.40" font-size="8.5" text-anchor="middle" dominant-baseline="central" fill="#2a2a2a">20</text>
<line x1="434.44" y1="320.60" x2="434.44" y2="322.90" stroke="#222222" stroke-width="0.9"/>
<line x1="442.38" y1="320.60" x2="442.38" y2="322.90" stroke="#222222" stroke-width="0.9"/>
<line x1="450.32" y1="320.60" x2="450.32" y2="322.90" stroke="#222222" stroke-width="0.9"/>
<line x1="458.26" y1="320.60" x2="458.26" y2="322.90" stroke="#222222" stroke-width="0.9"/>
<line x1="466.20" y1="320.50" x2="466.20" y2="325.30" stroke="#222222" stroke-width="1.1"/>
<text x="466.20" y="333.40" font-size="8.5" text-anchor="middle" dominant-baseline="central" fill="#2a2a2a">30</text>
<line x1="474.14" y1="320.60" x2="474.14" y2="322.90" stroke="#222222" stroke-width="0.9"/>
<line x1="482.08" y1="320.60" x2="482.08" y2="322.90" stroke="#222222" stroke-width="0.9"/>
<line x1="490.02" y1="320.60" x2="490.02" y2="322.90" stroke="#222222" stroke-width="0.9"/>
<line x1="497.96" y1="320.60" x2="497.96" y2="322.90" stroke="#222222" stroke-width="0.9"/>
<line x1="505.90" y1="320.50" x2="505.90" y2="325.30" stroke="#222222" stroke-width="1.1"/>
<text x="505.90" y="333.40" font-size="8.5" text-anchor="middle" dominant-baseline="central" fill="#2a2a2a">40</text>
<line x1="513.84" y1="320.60" x2="513.84" y2="322.90" stroke="#222222" stroke-width="0.9"/>
<line x1="521.78" y1="320.60" x2="521.78" y2="322.90" stroke="#222222" stroke-width="0.9"/>
<line x1="529.72" y1="320.60" x2="529.72" y2="322.90" stroke="#222222" stroke-width="0.9"/>
<line x1="537.66" y1="320.60" x2="537.66" y2="322.90" stroke="#222222" stroke-width="0.9"/>
<line x1="545.60" y1="320.50" x2="545.60" y2="325.30" stroke="#222222" stroke-width="1.1"/>
<text x="545.60" y="333.40" font-size="8.5" text-anchor="middle" dominant-baseline="central" fill="#2a2a2a">50</text>
<line x1="553.54" y1="320.60" x2="553.54" y2="322.90" stroke="#222222" stroke-width="0.9"/>
<line x1="561.48" y1="320.60" x2="561.48" y2="322.90" stroke="#222222" stroke-width="0.9"/>
<line x1="569.42" y1="320.60" x2="569.42" y2="322.90" stroke="#222222" stroke-width="0.9"/>
<line x1="577.36" y1="320.60" x2="577.36" y2="322.90" stroke="#222222" stroke-width="0.9"/>
<line x1="585.30" y1="320.50" x2="585.30" y2="325.30" stroke="#222222" stroke-width="1.1"/>
<text x="585.30" y="333.40" font-size="8.5" text-anchor="middle" dominant-baseline="central" fill="#2a2a2a">60</text>
<line x1="593.24" y1="320.60" x2="593.24" y2="322.90" stroke="#222222" stroke-width="0.9"/>
<line x1="601.18" y1="320.60" x2="601.18" y2="322.90" stroke="#222222" stroke-width="0.9"/>
<line x1="609.12" y1="320.60" x2="609.12" y2="322.90" stroke="#222222" stroke-width="0.9"/>
<line x1="617.06" y1="320.60" x2="617.06" y2="322.90" stroke="#222222" stroke-width="0.9"/>
<line x1="625.00" y1="320.50" x2="625.00" y2="325.30" stroke="#222222" stroke-width="1.1"/>
<text x="625.00" y="333.40" font-size="8.5" text-anchor="middle" dominant-baseline="central" fill="#2a2a2a">70</text>
<line x1="632.94" y1="320.60" x2="632.94" y2="322.90" stroke="#222222" stroke-width="0.9"/>
<line x1="640.88" y1="320.60" x2="640.88" y2="322.90" stroke="#222222" stroke-width="0.9"/>
<line x1="648.82" y1="320.60" x2="648.82" y2="322.90" stroke="#222222" stroke-width="0.9"/>
<line x1="656.76" y1="320.60" x2="656.76" y2="322.90" stroke="#222222" stroke-width="0.9"/>
<line x1="664.70" y1="320.50" x2="664.70" y2="325.30" stroke="#222222" stroke-width="1.1"/>
<text x="664.70" y="333.40" font-size="8.5" text-anchor="middle" dominant-baseline="central" fill="#2a2a2a">80</text>
<rect x="89.70" y="311.00" width="2.4" height="9.50" fill="#ff0000"/>
<text x="96.40" y="303.20" font-size="8.8" text-anchor="middle" dominant-baseline="central" fill="#2a2a2a">(111)</text>
<rect x="138.80" y="291.30" width="2.4" height="29.20" fill="#ff0000"/>
<text x="147.50" y="285.20" font-size="8.8" text-anchor="middle" dominant-baseline="central" fill="#2a2a2a">(220)</text>
<rect x="160.60" y="234.30" width="2.4" height="86.20" fill="#ff0000"/>
<text x="166.70" y="227.70" font-size="8.8" text-anchor="middle" dominant-baseline="central" fill="#2a2a2a">(311)</text>
<rect x="167.40" y="271.40" width="2.4" height="49.10" fill="#ff0000"/>
<text x="173.30" y="262.70" font-size="8.8" text-anchor="middle" dominant-baseline="central" fill="#2a2a2a">(222)</text>
<rect x="192.90" y="216.30" width="2.4" height="104.20" fill="#ff0000"/>
<text x="200.00" y="209.20" font-size="8.8" text-anchor="middle" dominant-baseline="central" fill="#2a2a2a">(400)</text>
<rect x="252.80" y="306.00" width="2.4" height="14.50" fill="#ff0000"/>
<text x="258.40" y="300.60" font-size="8.8" text-anchor="middle" dominant-baseline="central" fill="#2a2a2a">(440)</text>
<rect x="276.00" y="185.10" width="2.4" height="135.40" fill="#ff0000"/>
<text x="283.30" y="178.10" font-size="8.8" text-anchor="middle" dominant-baseline="central" fill="#2a2a2a">(444)</text>
<rect x="438.70" y="284.00" width="2.4" height="38.90" fill="#ff0000"/>
<text x="443.50" y="273.60" font-size="8.8" text-anchor="middle" dominant-baseline="central" fill="#2a2a2a">(012)</text>
<rect x="479.40" y="187.20" width="2.4" height="135.70" fill="#ff0000"/>
<text x="483.00" y="175.60" font-size="8.8" text-anchor="middle" dominant-baseline="central" fill="#2a2a2a">(104)</text>
<rect x="486.70" y="231.70" width="2.4" height="91.20" fill="#ff0000"/>
<text x="495.10" y="225.50" font-size="8.8" text-anchor="middle" dominant-baseline="central" fill="#2a2a2a">(110)</text>
<rect x="509.00" y="291.20" width="2.4" height="31.70" fill="#ff0000"/>
<text x="516.60" y="286.30" font-size="8.8" text-anchor="middle" dominant-baseline="central" fill="#2a2a2a">(113)</text>
<rect x="516.60" y="308.30" width="2.4" height="14.60" fill="#ff0000"/>
<text x="527.50" y="303.60" font-size="8.8" text-anchor="middle" dominant-baseline="central" fill="#2a2a2a">(202)</text>
<rect x="541.20" y="282.10" width="2.4" height="40.80" fill="#ff0000"/>
<text x="545.70" y="276.00" font-size="8.8" text-anchor="middle" dominant-baseline="central" fill="#2a2a2a">(024)</text>
<rect x="561.60" y="270.60" width="2.4" height="52.30" fill="#ff0000"/>
<text x="563.30" y="265.80" font-size="8.8" text-anchor="middle" dominant-baseline="central" fill="#2a2a2a">(116)</text>
<rect x="574.60" y="312.90" width="2.4" height="10.00" fill="#ff0000"/>
<text x="578.90" y="305.30" font-size="8.8" text-anchor="middle" dominant-baseline="central" fill="#2a2a2a">(018)</text>
<rect x="594.30" y="288.20" width="2.4" height="34.70" fill="#ff0000"/>
<text x="586.20" y="280.60" font-size="8.8" text-anchor="middle" dominant-baseline="central" fill="#2a2a2a">(214)</text>
<rect x="600.40" y="286.50" width="2.4" height="36.40" fill="#ff0000"/>
<text x="613.20" y="280.00" font-size="8.8" text-anchor="middle" dominant-baseline="central" fill="#2a2a2a">(300)</text>
<line x1="441.0" y1="283.8" x2="443.7" y2="279.1" stroke="#9a9a9a" stroke-width="0.6"/>
<line x1="481.9" y1="187.1" x2="483.4" y2="181.9" stroke="#9a9a9a" stroke-width="0.6"/>
<line x1="489.4" y1="236.3" x2="495.2" y2="231.3" stroke="#9a9a9a" stroke-width="0.6"/>
<text x="47.2" y="39.6" font-size="11.8" fill="#222222" stroke="#222222" stroke-width="0.08" >As-synthesized γ-Al<tspan font-size="8" dy="2.8">2</tspan><tspan dy="-2.8">O</tspan><tspan font-size="8" dy="2.8">3</tspan></text>
<text x="355.6" y="42" font-size="11.8" fill="#222222" stroke="#222222" stroke-width="0.08" >As-synthesized α-Fe<tspan font-size="8" dy="2.8">2</tspan><tspan dy="-2.8">O</tspan><tspan font-size="8" dy="2.8">3</tspan></text>
<text x="27.2" y="203" font-size="11.8" fill="#222222" stroke="#222222" stroke-width="0.08" >JCPDS Card 10-425</text>
<text x="27.2" y="217" font-size="11.8" fill="#222222" stroke="#222222" stroke-width="0.08" >γ-Al<tspan font-size="8" dy="2.8">2</tspan><tspan dy="-2.8">O</tspan><tspan font-size="8" dy="2.8">3</tspan></text>
<text x="353.2" y="202.7" font-size="11.8" fill="#222222" stroke="#222222" stroke-width="0.08" >JCPDS Card 33-0664</text>
<text x="353.2" y="216.5" font-size="11.8" fill="#222222" stroke="#222222" stroke-width="0.08" >α-Fe2O3</text>
<text x="169.7" y="168.5" font-size="10" font-weight="bold" text-anchor="middle" dominant-baseline="central" fill="#222222">2θ</text>
<text x="505.8" y="167.6" font-size="10.6" text-anchor="middle" dominant-baseline="central" fill="#222222">2θ</text>
<text x="157.5" y="337.5" font-size="10" font-weight="bold" text-anchor="middle" dominant-baseline="central" fill="#222222">2θ</text>
<text transform="translate(8.2,237.8) rotate(-90)" font-size="9.8" text-anchor="middle" fill="#222222">Intensity</text>
</svg></body></html>
